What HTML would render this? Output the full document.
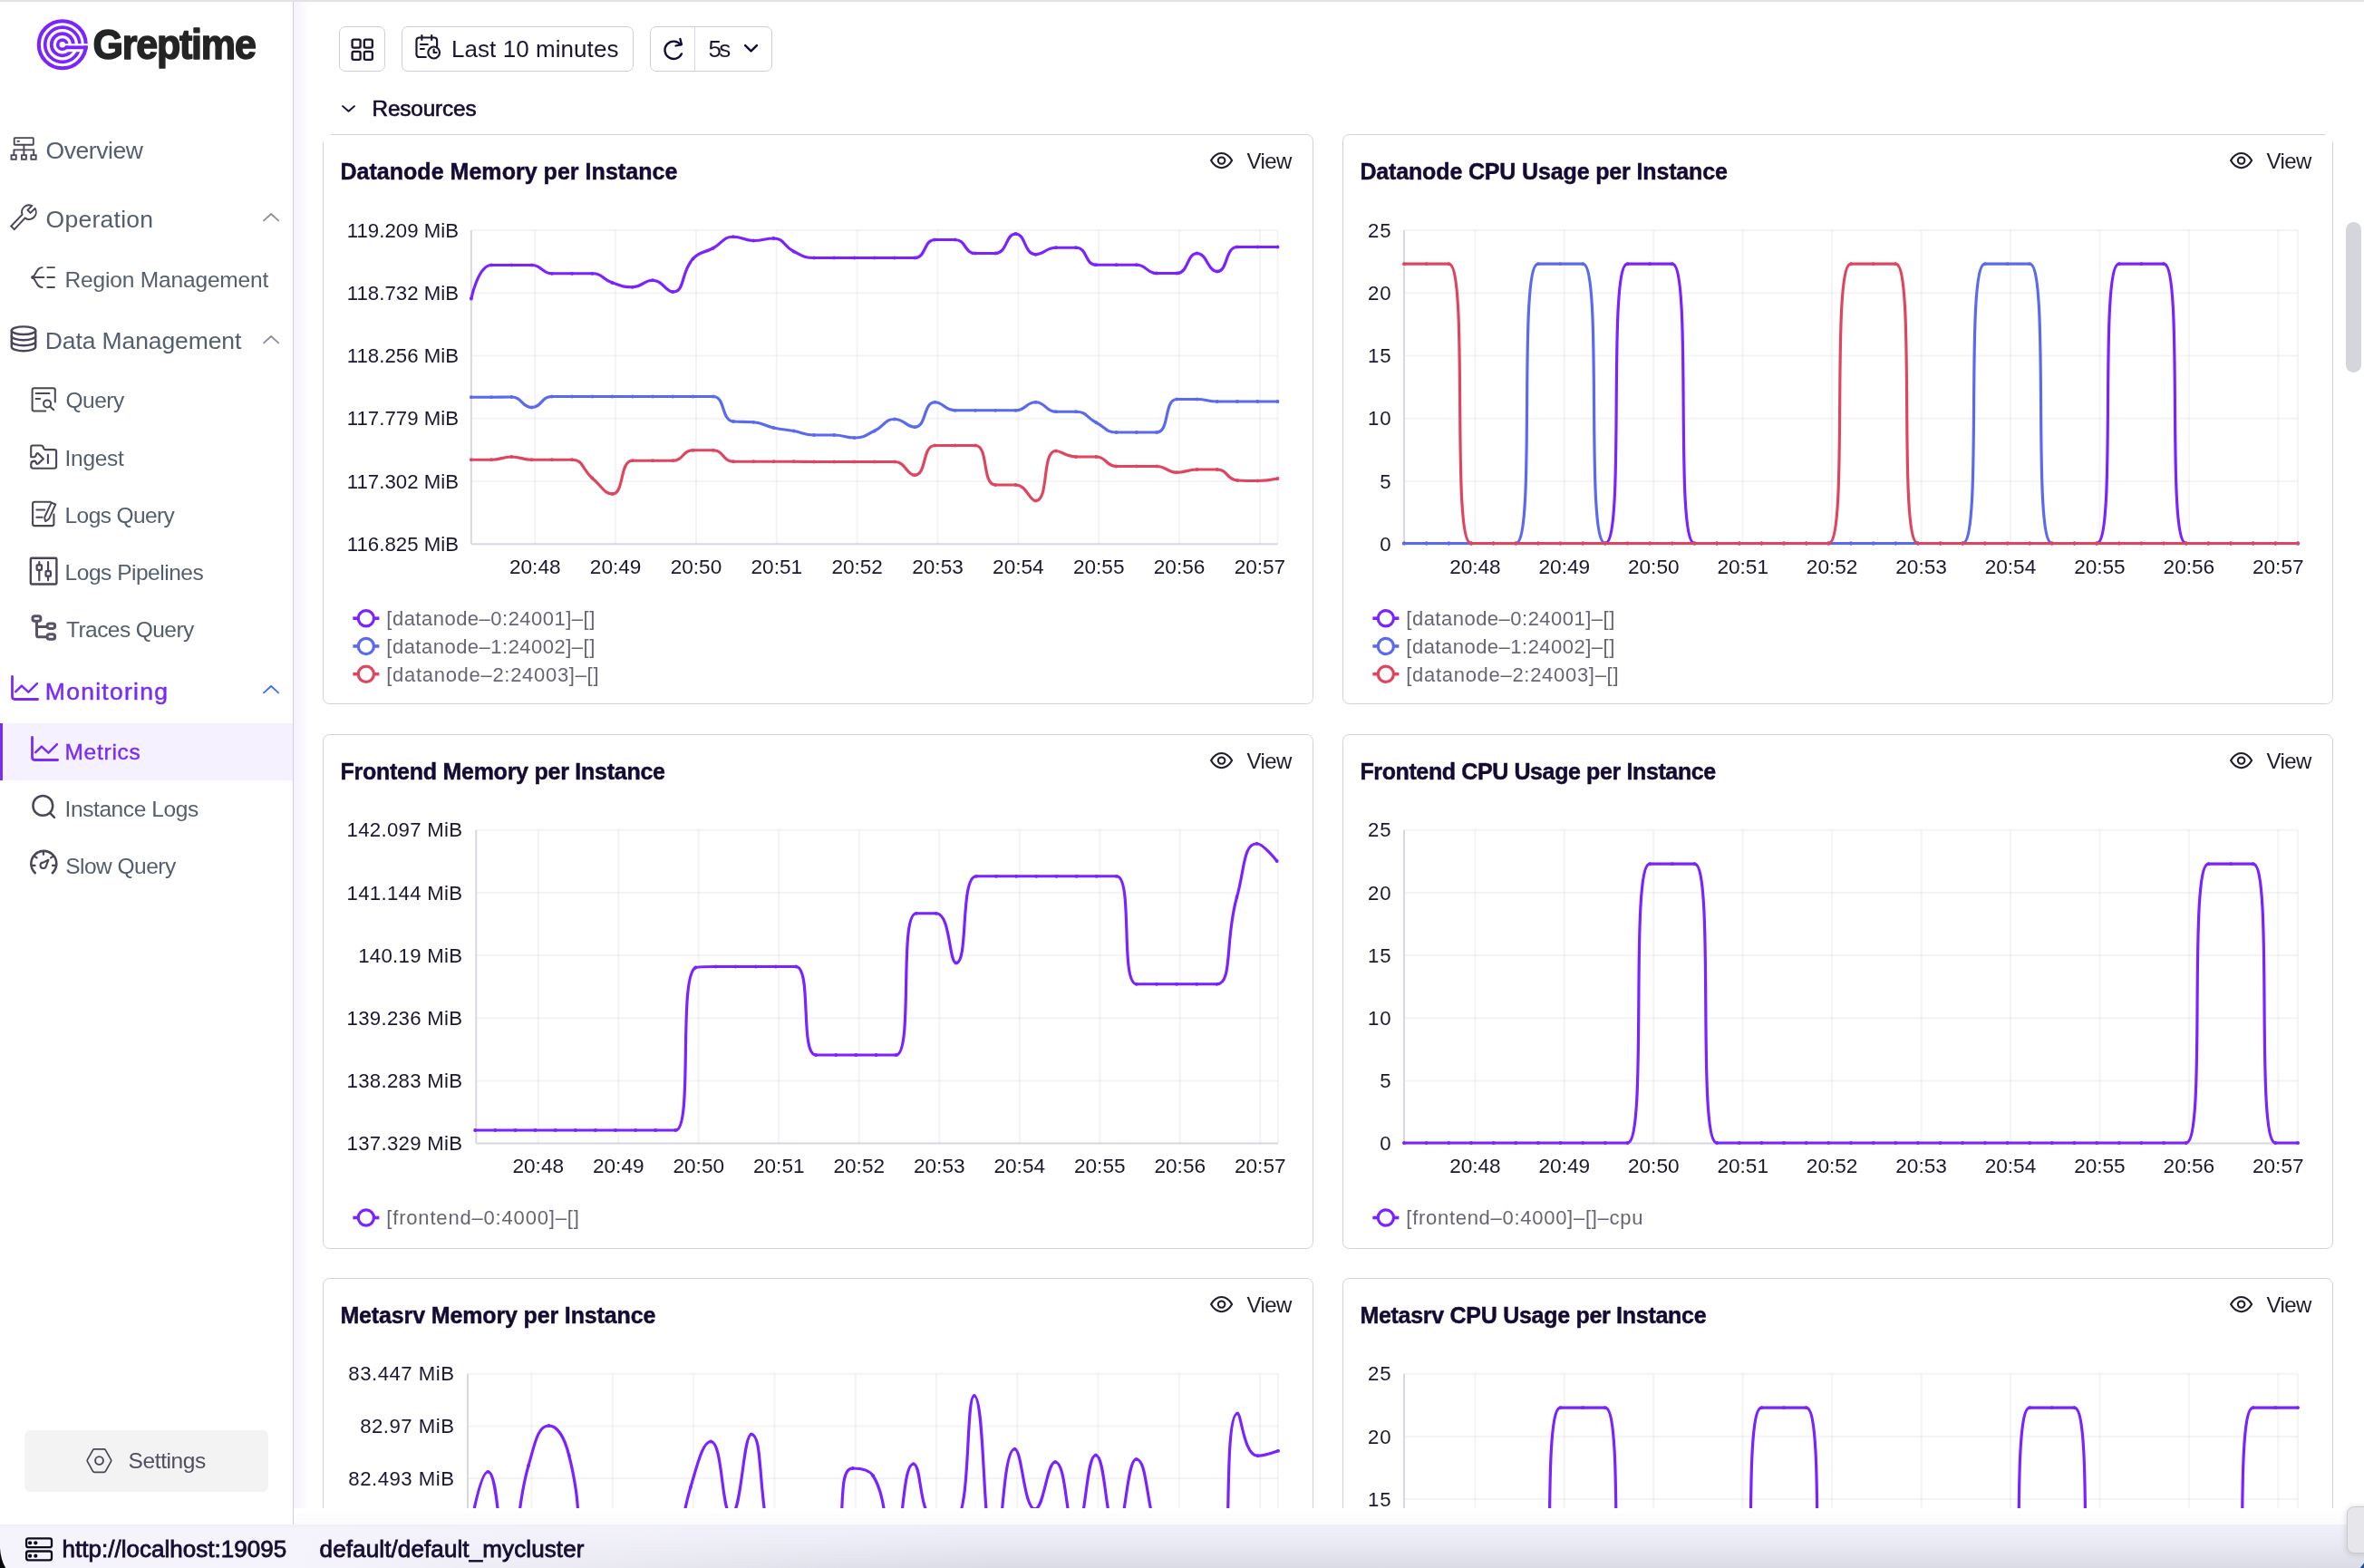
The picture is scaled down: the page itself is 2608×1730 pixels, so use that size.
<!DOCTYPE html><html lang="en"><head><meta charset="utf-8"><title>Greptime Dashboard - Metrics</title><style>
html,body{margin:0;padding:0}
body{width:2608px;height:1730px;position:relative;overflow:hidden;background:#fff;font-family:"Liberation Sans", sans-serif;}
.t{position:absolute;white-space:nowrap;}
.abs{position:absolute}
.ic{position:absolute;overflow:visible}
.card{position:absolute;box-sizing:border-box;border:1.6px solid #d2d1d9;border-radius:7.5px;background:#fff;width:1093px}
.btn{position:absolute;box-sizing:border-box;border:1.6px solid #d0cdd7;border-radius:7px;background:#fff;top:29.3px;height:49.4px}
svg text.ax{font-family:"Liberation Sans", sans-serif;font-size:22.2px;fill:#1c1730}
svg text.axx{font-family:"Liberation Sans", sans-serif;font-size:22.6px;fill:#1c1730}
svg text.lg{font-family:"Liberation Sans", sans-serif;font-size:22px;fill:#686475;}
</style></head><body><div id="app" style="position:absolute;left:0;top:0;width:2608px;height:1730px;overflow:hidden;will-change:transform">
<div class="abs" style="left:324px;top:2px;width:18px;height:1680px;background:linear-gradient(90deg,#f6f1ff,#fff)"></div>
<div class="card" style="left:355.8px;top:147.7px;height:629.6px"></div>
<div class="card" style="left:1480.8px;top:147.7px;height:629.6px"></div>
<div class="card" style="left:355.8px;top:809.7px;height:568.3px"></div>
<div class="card" style="left:1480.8px;top:809.7px;height:568.3px"></div>
<div class="card" style="left:355.8px;top:1409.7px;height:600px"></div>
<div class="card" style="left:1480.8px;top:1409.7px;height:600px"></div>
<div class="abs" style="left:350px;top:140px;width:15px;height:17px;background:linear-gradient(135deg,#fff 60%,rgba(255,255,255,0))"></div>
<div class="abs" style="left:2565px;top:140px;width:15px;height:17px;background:linear-gradient(225deg,#fff 60%,rgba(255,255,255,0))"></div>
<svg class="abs" style="left:0;top:0" width="2608" height="1730" viewBox="0 0 2608 1730"><defs><marker id="mk0" markerWidth="6" markerHeight="6" refX="3" refY="3" markerUnits="userSpaceOnUse"><circle cx="3" cy="3" r="1.900" fill="#7a22ff"/></marker><marker id="mk1" markerWidth="6" markerHeight="6" refX="3" refY="3" markerUnits="userSpaceOnUse"><circle cx="3" cy="3" r="1.900" fill="#5a6af0"/></marker><marker id="mk2" markerWidth="6" markerHeight="6" refX="3" refY="3" markerUnits="userSpaceOnUse"><circle cx="3" cy="3" r="1.900" fill="#e0455f"/></marker></defs>
<line x1="519.90" x2="1409.50" y1="253.90" y2="253.90" stroke="rgba(40,40,55,0.05)" stroke-width="2"/>
<text x="506.15" y="261.50" text-anchor="end" class="ax" style="letter-spacing:0.05px">119.209 MiB</text>
<line x1="519.90" x2="1409.50" y1="323.16" y2="323.16" stroke="rgba(40,40,55,0.05)" stroke-width="2"/>
<text x="506.15" y="330.76" text-anchor="end" class="ax" style="letter-spacing:0.05px">118.732 MiB</text>
<line x1="519.90" x2="1409.50" y1="392.42" y2="392.42" stroke="rgba(40,40,55,0.05)" stroke-width="2"/>
<text x="506.15" y="400.02" text-anchor="end" class="ax" style="letter-spacing:0.05px">118.256 MiB</text>
<line x1="519.90" x2="1409.50" y1="461.68" y2="461.68" stroke="rgba(40,40,55,0.05)" stroke-width="2"/>
<text x="506.15" y="469.28" text-anchor="end" class="ax" style="letter-spacing:0.05px">117.779 MiB</text>
<line x1="519.90" x2="1409.50" y1="530.94" y2="530.94" stroke="rgba(40,40,55,0.05)" stroke-width="2"/>
<text x="506.15" y="538.54" text-anchor="end" class="ax" style="letter-spacing:0.05px">117.302 MiB</text>
<line x1="519.90" x2="1409.50" y1="600.20" y2="600.20" stroke="#d9d8e0" stroke-width="2"/>
<text x="506.15" y="607.80" text-anchor="end" class="ax" style="letter-spacing:0.05px">116.825 MiB</text>
<line x1="590.25" x2="590.25" y1="253.90" y2="600.20" stroke="rgba(40,40,55,0.05)" stroke-width="2"/>
<text x="590.25" y="633.00" text-anchor="middle" class="axx">20:48</text>
<line x1="679.10" x2="679.10" y1="253.90" y2="600.20" stroke="rgba(40,40,55,0.05)" stroke-width="2"/>
<text x="679.10" y="633.00" text-anchor="middle" class="axx">20:49</text>
<line x1="767.95" x2="767.95" y1="253.90" y2="600.20" stroke="rgba(40,40,55,0.05)" stroke-width="2"/>
<text x="767.95" y="633.00" text-anchor="middle" class="axx">20:50</text>
<line x1="856.80" x2="856.80" y1="253.90" y2="600.20" stroke="rgba(40,40,55,0.05)" stroke-width="2"/>
<text x="856.80" y="633.00" text-anchor="middle" class="axx">20:51</text>
<line x1="945.65" x2="945.65" y1="253.90" y2="600.20" stroke="rgba(40,40,55,0.05)" stroke-width="2"/>
<text x="945.65" y="633.00" text-anchor="middle" class="axx">20:52</text>
<line x1="1034.50" x2="1034.50" y1="253.90" y2="600.20" stroke="rgba(40,40,55,0.05)" stroke-width="2"/>
<text x="1034.50" y="633.00" text-anchor="middle" class="axx">20:53</text>
<line x1="1123.35" x2="1123.35" y1="253.90" y2="600.20" stroke="rgba(40,40,55,0.05)" stroke-width="2"/>
<text x="1123.35" y="633.00" text-anchor="middle" class="axx">20:54</text>
<line x1="1212.20" x2="1212.20" y1="253.90" y2="600.20" stroke="rgba(40,40,55,0.05)" stroke-width="2"/>
<text x="1212.20" y="633.00" text-anchor="middle" class="axx">20:55</text>
<line x1="1301.05" x2="1301.05" y1="253.90" y2="600.20" stroke="rgba(40,40,55,0.05)" stroke-width="2"/>
<text x="1301.05" y="633.00" text-anchor="middle" class="axx">20:56</text>
<line x1="1389.90" x2="1389.90" y1="253.90" y2="600.20" stroke="rgba(40,40,55,0.05)" stroke-width="2"/>
<text x="1389.90" y="633.00" text-anchor="middle" class="axx">20:57</text>
<line x1="1409.50" x2="1409.50" y1="253.90" y2="600.20" stroke="rgba(40,40,55,0.05)" stroke-width="2"/>
<line x1="519.90" x2="519.90" y1="253.90" y2="600.20" stroke="#d9d8e0" stroke-width="2"/>
<path d="M519.90 329.50C519.90 329.50 527.46 292.50 542.14 292.50C549.70 292.50 553.26 292.50 564.38 292.50C575.50 292.50 575.94 292.50 586.62 292.50C598.18 292.50 597.30 301.75 608.86 301.75C619.54 301.75 619.98 301.75 631.10 301.75C642.22 301.75 642.76 301.75 653.34 301.75C665.00 301.75 664.05 308.11 675.58 312.00C686.29 315.61 686.88 316.75 697.82 316.75C709.12 316.75 709.43 309.25 720.06 309.25C731.67 309.25 733.96 322.00 742.30 322.00C756.20 322.00 750.54 300.69 764.54 285.50C772.78 276.56 775.74 279.77 786.78 273.75C797.98 267.64 797.24 261.25 809.02 261.25C819.48 261.25 820.08 265.50 831.26 265.50C842.32 265.50 843.33 263.00 853.50 263.00C865.57 263.00 863.90 271.78 875.74 277.50C886.14 282.53 886.60 284.50 897.98 284.50C908.84 284.50 909.10 284.50 920.22 284.50C931.34 284.50 931.34 284.50 942.46 284.50C953.58 284.50 953.58 284.50 964.70 284.50C975.82 284.50 975.82 284.50 986.94 284.50C998.06 284.50 999.70 284.50 1009.18 284.50C1021.94 284.50 1018.66 264.50 1031.42 264.50C1040.90 264.50 1043.58 264.50 1053.66 264.50C1065.82 264.50 1063.74 279.50 1075.90 279.50C1085.98 279.50 1088.84 279.50 1098.14 279.50C1111.08 279.50 1109.42 258.00 1120.38 258.00C1131.66 258.00 1129.82 280.75 1142.62 280.75C1152.06 280.75 1153.44 273.25 1164.86 273.25C1175.68 273.25 1177.49 273.25 1187.10 273.25C1199.73 273.25 1196.71 292.25 1209.34 292.25C1218.95 292.25 1220.46 292.25 1231.58 292.25C1242.70 292.25 1243.14 292.25 1253.82 292.25C1265.38 292.25 1264.50 301.50 1276.06 301.50C1286.74 301.50 1289.06 301.50 1298.30 301.50C1311.30 301.50 1309.17 279.50 1320.54 279.50C1331.41 279.50 1332.53 299.50 1342.78 299.50C1354.77 299.50 1351.42 272.50 1365.02 272.50C1373.66 272.50 1376.14 272.50 1387.26 272.50C1398.38 272.50 1409.50 272.50 1409.50 272.50" fill="none" stroke="#7a22ff" stroke-width="3.2" stroke-linejoin="round" stroke-linecap="round"/>
<polyline points="519.9,329.5 542.1,292.5 564.4,292.5 586.6,292.5 608.9,301.8 631.1,301.8 653.3,301.8 675.6,312.0 697.8,316.8 720.1,309.2 742.3,322.0 764.5,285.5 786.8,273.8 809.0,261.2 831.3,265.5 853.5,263.0 875.7,277.5 898.0,284.5 920.2,284.5 942.5,284.5 964.7,284.5 986.9,284.5 1009.2,284.5 1031.4,264.5 1053.7,264.5 1075.9,279.5 1098.1,279.5 1120.4,258.0 1142.6,280.8 1164.9,273.2 1187.1,273.2 1209.3,292.2 1231.6,292.2 1253.8,292.2 1276.1,301.5 1298.3,301.5 1320.5,279.5 1342.8,299.5 1365.0,272.5 1387.3,272.5 1409.5,272.5" fill="none" stroke="none" marker-start="url(#mk0)" marker-mid="url(#mk0)" marker-end="url(#mk0)"/>
<path d="M519.90 438.25C519.90 438.25 531.02 438.25 542.14 438.25C553.26 438.25 553.92 438.00 564.38 438.00C576.16 438.00 575.55 449.50 586.62 449.50C597.79 449.50 597.03 437.50 608.86 437.50C619.27 437.50 619.98 437.50 631.10 437.50C642.22 437.50 642.22 437.50 653.34 437.50C664.46 437.50 664.46 437.50 675.58 437.50C686.70 437.50 686.70 437.50 697.82 437.50C708.94 437.50 708.94 437.50 720.06 437.50C731.18 437.50 731.18 437.50 742.30 437.50C753.42 437.50 753.42 437.50 764.54 437.50C775.66 437.50 778.19 437.50 786.78 437.50C800.43 437.50 795.37 463.81 809.02 465.00C817.61 465.75 820.35 465.00 831.26 465.75C842.59 466.53 842.24 469.53 853.50 472.00C864.48 474.41 864.66 473.51 875.74 475.50C886.90 477.51 886.75 480.00 897.98 480.00C908.99 480.00 909.15 480.00 920.22 480.00C931.39 480.00 931.59 483.00 942.46 483.00C953.83 483.00 954.10 480.39 964.70 475.50C976.34 470.14 975.40 462.50 986.94 462.50C997.64 462.50 1000.21 471.25 1009.18 471.25C1022.45 471.25 1018.17 443.75 1031.42 443.75C1040.41 443.75 1042.12 452.75 1053.66 452.75C1064.36 452.75 1064.78 452.75 1075.90 452.75C1087.02 452.75 1087.02 452.75 1098.14 452.75C1109.26 452.75 1109.68 452.75 1120.38 452.75C1131.92 452.75 1131.64 443.75 1142.62 443.75C1153.88 443.75 1153.18 454.25 1164.86 454.25C1175.42 454.25 1176.69 454.25 1187.10 454.25C1198.93 454.25 1198.09 460.50 1209.34 466.25C1220.33 471.87 1219.88 477.00 1231.58 477.00C1242.12 477.00 1242.70 477.00 1253.82 477.00C1264.94 477.00 1268.45 477.00 1276.06 477.00C1290.69 477.00 1283.67 440.50 1298.30 440.50C1305.91 440.50 1309.45 440.50 1320.54 440.50C1331.69 440.50 1331.63 443.00 1342.78 443.00C1353.87 443.00 1353.90 443.00 1365.02 443.00C1376.14 443.00 1376.14 443.00 1387.26 443.00C1398.38 443.00 1409.50 443.00 1409.50 443.00" fill="none" stroke="#5a6af0" stroke-width="3.2" stroke-linejoin="round" stroke-linecap="round"/>
<polyline points="519.9,438.2 542.1,438.2 564.4,438.0 586.6,449.5 608.9,437.5 631.1,437.5 653.3,437.5 675.6,437.5 697.8,437.5 720.1,437.5 742.3,437.5 764.5,437.5 786.8,437.5 809.0,465.0 831.3,465.8 853.5,472.0 875.7,475.5 898.0,480.0 920.2,480.0 942.5,483.0 964.7,475.5 986.9,462.5 1009.2,471.2 1031.4,443.8 1053.7,452.8 1075.9,452.8 1098.1,452.8 1120.4,452.8 1142.6,443.8 1164.9,454.2 1187.1,454.2 1209.3,466.2 1231.6,477.0 1253.8,477.0 1276.1,477.0 1298.3,440.5 1320.5,440.5 1342.8,443.0 1365.0,443.0 1387.3,443.0 1409.5,443.0" fill="none" stroke="none" marker-start="url(#mk1)" marker-mid="url(#mk1)" marker-end="url(#mk1)"/>
<path d="M519.90 507.25C519.90 507.25 531.08 507.25 542.14 507.25C553.32 507.25 553.26 504.00 564.38 504.00C575.50 504.00 575.44 507.25 586.62 507.25C597.68 507.25 597.74 507.25 608.86 507.25C619.98 507.25 621.65 507.25 631.10 507.25C643.89 507.25 641.88 517.78 653.34 527.50C664.12 536.65 666.75 545.00 675.58 545.00C688.99 545.00 683.17 508.25 697.82 508.25C705.41 508.25 708.94 508.25 720.06 508.25C731.18 508.25 731.84 508.25 742.30 508.25C754.08 508.25 752.76 496.75 764.54 496.75C775.00 496.75 776.42 496.75 786.78 496.75C798.66 496.75 797.14 509.25 809.02 509.25C819.38 509.25 820.14 509.25 831.26 509.25C842.38 509.25 842.38 509.25 853.50 509.25C864.62 509.25 864.62 509.25 875.74 509.25C886.86 509.25 886.86 509.50 897.98 509.50C909.10 509.50 909.10 509.50 920.22 509.50C931.34 509.50 931.34 509.50 942.46 509.50C953.58 509.50 953.58 509.50 964.70 509.50C975.82 509.50 976.83 509.50 986.94 509.50C999.07 509.50 1000.22 524.25 1009.18 524.25C1022.46 524.25 1017.18 491.50 1031.42 491.50C1039.42 491.50 1042.54 491.50 1053.66 491.50C1064.78 491.50 1068.94 491.50 1075.90 491.50C1091.18 491.50 1082.86 535.00 1098.14 535.00C1105.10 535.00 1110.59 535.00 1120.38 535.00C1132.83 535.00 1135.44 552.50 1142.62 552.50C1157.68 552.50 1148.87 497.50 1164.86 497.50C1171.11 497.50 1175.75 504.00 1187.10 504.00C1197.99 504.00 1198.78 504.00 1209.34 504.00C1221.02 504.00 1219.90 514.50 1231.58 514.50C1242.14 514.50 1242.70 514.50 1253.82 514.50C1264.94 514.50 1265.18 514.50 1276.06 514.50C1287.42 514.50 1286.99 521.25 1298.30 521.25C1309.23 521.25 1309.36 518.00 1320.54 518.00C1331.60 518.00 1332.37 518.00 1342.78 518.00C1354.61 518.00 1353.19 529.43 1365.02 530.00C1375.43 530.50 1376.17 530.50 1387.26 530.50C1398.41 530.50 1409.50 528.00 1409.50 528.00" fill="none" stroke="#e0455f" stroke-width="3.2" stroke-linejoin="round" stroke-linecap="round"/>
<polyline points="519.9,507.2 542.1,507.2 564.4,504.0 586.6,507.2 608.9,507.2 631.1,507.2 653.3,527.5 675.6,545.0 697.8,508.2 720.1,508.2 742.3,508.2 764.5,496.8 786.8,496.8 809.0,509.2 831.3,509.2 853.5,509.2 875.7,509.2 898.0,509.5 920.2,509.5 942.5,509.5 964.7,509.5 986.9,509.5 1009.2,524.2 1031.4,491.5 1053.7,491.5 1075.9,491.5 1098.1,535.0 1120.4,535.0 1142.6,552.5 1164.9,497.5 1187.1,504.0 1209.3,504.0 1231.6,514.5 1253.8,514.5 1276.1,514.5 1298.3,521.2 1320.5,518.0 1342.8,518.0 1365.0,530.0 1387.3,530.5 1409.5,528.0" fill="none" stroke="none" marker-start="url(#mk2)" marker-mid="url(#mk2)" marker-end="url(#mk2)"/>
<line x1="1549.00" x2="2535.00" y1="253.90" y2="253.90" stroke="rgba(40,40,55,0.05)" stroke-width="2"/>
<text x="1535.40" y="261.50" text-anchor="end" class="ax" style="letter-spacing:0.8px">25</text>
<line x1="1549.00" x2="2535.00" y1="323.16" y2="323.16" stroke="rgba(40,40,55,0.05)" stroke-width="2"/>
<text x="1535.40" y="330.76" text-anchor="end" class="ax" style="letter-spacing:0.8px">20</text>
<line x1="1549.00" x2="2535.00" y1="392.42" y2="392.42" stroke="rgba(40,40,55,0.05)" stroke-width="2"/>
<text x="1535.40" y="400.02" text-anchor="end" class="ax" style="letter-spacing:0.8px">15</text>
<line x1="1549.00" x2="2535.00" y1="461.68" y2="461.68" stroke="rgba(40,40,55,0.05)" stroke-width="2"/>
<text x="1535.40" y="469.28" text-anchor="end" class="ax" style="letter-spacing:0.8px">10</text>
<line x1="1549.00" x2="2535.00" y1="530.94" y2="530.94" stroke="rgba(40,40,55,0.05)" stroke-width="2"/>
<text x="1535.40" y="538.54" text-anchor="end" class="ax" style="letter-spacing:0.8px">5</text>
<line x1="1549.00" x2="2535.00" y1="600.20" y2="600.20" stroke="#d9d8e0" stroke-width="2"/>
<text x="1535.40" y="607.80" text-anchor="end" class="ax" style="letter-spacing:0.8px">0</text>
<line x1="1627.40" x2="1627.40" y1="253.90" y2="600.20" stroke="rgba(40,40,55,0.05)" stroke-width="2"/>
<text x="1627.40" y="633.00" text-anchor="middle" class="axx">20:48</text>
<line x1="1725.83" x2="1725.83" y1="253.90" y2="600.20" stroke="rgba(40,40,55,0.05)" stroke-width="2"/>
<text x="1725.83" y="633.00" text-anchor="middle" class="axx">20:49</text>
<line x1="1824.26" x2="1824.26" y1="253.90" y2="600.20" stroke="rgba(40,40,55,0.05)" stroke-width="2"/>
<text x="1824.26" y="633.00" text-anchor="middle" class="axx">20:50</text>
<line x1="1922.69" x2="1922.69" y1="253.90" y2="600.20" stroke="rgba(40,40,55,0.05)" stroke-width="2"/>
<text x="1922.69" y="633.00" text-anchor="middle" class="axx">20:51</text>
<line x1="2021.12" x2="2021.12" y1="253.90" y2="600.20" stroke="rgba(40,40,55,0.05)" stroke-width="2"/>
<text x="2021.12" y="633.00" text-anchor="middle" class="axx">20:52</text>
<line x1="2119.55" x2="2119.55" y1="253.90" y2="600.20" stroke="rgba(40,40,55,0.05)" stroke-width="2"/>
<text x="2119.55" y="633.00" text-anchor="middle" class="axx">20:53</text>
<line x1="2217.98" x2="2217.98" y1="253.90" y2="600.20" stroke="rgba(40,40,55,0.05)" stroke-width="2"/>
<text x="2217.98" y="633.00" text-anchor="middle" class="axx">20:54</text>
<line x1="2316.41" x2="2316.41" y1="253.90" y2="600.20" stroke="rgba(40,40,55,0.05)" stroke-width="2"/>
<text x="2316.41" y="633.00" text-anchor="middle" class="axx">20:55</text>
<line x1="2414.84" x2="2414.84" y1="253.90" y2="600.20" stroke="rgba(40,40,55,0.05)" stroke-width="2"/>
<text x="2414.84" y="633.00" text-anchor="middle" class="axx">20:56</text>
<line x1="2513.27" x2="2513.27" y1="253.90" y2="600.20" stroke="rgba(40,40,55,0.05)" stroke-width="2"/>
<text x="2513.27" y="633.00" text-anchor="middle" class="axx">20:57</text>
<line x1="2535.00" x2="2535.00" y1="253.90" y2="600.20" stroke="rgba(40,40,55,0.05)" stroke-width="2"/>
<line x1="1549.00" x2="1549.00" y1="253.90" y2="600.20" stroke="#d9d8e0" stroke-width="2"/>
<path d="M1549.00 599.50C1549.00 599.50 1561.33 599.50 1573.65 599.50C1585.97 599.50 1585.97 599.50 1598.30 599.50C1610.62 599.50 1610.62 599.50 1622.95 599.50C1635.28 599.50 1635.28 599.50 1647.60 599.50C1659.92 599.50 1659.92 599.50 1672.25 599.50C1684.58 599.50 1684.58 599.50 1696.90 599.50C1709.22 599.50 1709.22 599.50 1721.55 599.50C1733.88 599.50 1733.88 599.50 1746.20 599.50C1758.53 599.50 1769.03 599.50 1770.85 599.50C1793.68 599.50 1772.67 291.22 1795.50 291.22C1797.32 291.22 1807.83 291.22 1820.15 291.22C1832.47 291.22 1842.98 291.22 1844.80 291.22C1867.63 291.22 1846.62 599.50 1869.45 599.50C1871.27 599.50 1881.78 599.50 1894.10 599.50C1906.42 599.50 1906.42 599.50 1918.75 599.50C1931.08 599.50 1931.08 599.50 1943.40 599.50C1955.72 599.50 1955.72 599.50 1968.05 599.50C1980.38 599.50 1980.38 599.50 1992.70 599.50C2005.03 599.50 2005.03 599.50 2017.35 599.50C2029.67 599.50 2029.68 599.50 2042.00 599.50C2054.32 599.50 2054.32 599.50 2066.65 599.50C2078.98 599.50 2078.98 599.50 2091.30 599.50C2103.62 599.50 2103.62 599.50 2115.95 599.50C2128.27 599.50 2128.27 599.50 2140.60 599.50C2152.93 599.50 2152.93 599.50 2165.25 599.50C2177.57 599.50 2177.57 599.50 2189.90 599.50C2202.23 599.50 2202.23 599.50 2214.55 599.50C2226.88 599.50 2226.88 599.50 2239.20 599.50C2251.52 599.50 2251.52 599.50 2263.85 599.50C2276.18 599.50 2276.18 599.50 2288.50 599.50C2300.82 599.50 2311.33 599.50 2313.15 599.50C2335.98 599.50 2314.97 291.22 2337.80 291.22C2339.62 291.22 2350.12 291.22 2362.45 291.22C2374.77 291.22 2385.28 291.22 2387.10 291.22C2409.93 291.22 2388.92 599.50 2411.75 599.50C2413.57 599.50 2424.07 599.50 2436.40 599.50C2448.73 599.50 2448.73 599.50 2461.05 599.50C2473.38 599.50 2473.38 599.50 2485.70 599.50C2498.02 599.50 2498.02 599.50 2510.35 599.50C2522.68 599.50 2535.00 599.50 2535.00 599.50" fill="none" stroke="#7a22ff" stroke-width="3.2" stroke-linejoin="round" stroke-linecap="round"/>
<polyline points="1549.0,599.5 1573.7,599.5 1598.3,599.5 1623.0,599.5 1647.6,599.5 1672.2,599.5 1696.9,599.5 1721.5,599.5 1746.2,599.5 1770.8,599.5 1795.5,291.2 1820.2,291.2 1844.8,291.2 1869.5,599.5 1894.1,599.5 1918.8,599.5 1943.4,599.5 1968.0,599.5 1992.7,599.5 2017.3,599.5 2042.0,599.5 2066.7,599.5 2091.3,599.5 2115.9,599.5 2140.6,599.5 2165.2,599.5 2189.9,599.5 2214.6,599.5 2239.2,599.5 2263.8,599.5 2288.5,599.5 2313.2,599.5 2337.8,291.2 2362.4,291.2 2387.1,291.2 2411.8,599.5 2436.4,599.5 2461.1,599.5 2485.7,599.5 2510.3,599.5 2535.0,599.5" fill="none" stroke="none" marker-start="url(#mk0)" marker-mid="url(#mk0)" marker-end="url(#mk0)"/>
<path d="M1549.00 599.50C1549.00 599.50 1561.33 599.50 1573.65 599.50C1585.97 599.50 1585.97 599.50 1598.30 599.50C1610.62 599.50 1610.62 599.50 1622.95 599.50C1635.28 599.50 1635.28 599.50 1647.60 599.50C1659.92 599.50 1670.43 599.50 1672.25 599.50C1695.08 599.50 1674.07 291.22 1696.90 291.22C1698.72 291.22 1709.22 291.22 1721.55 291.22C1733.88 291.22 1744.38 291.22 1746.20 291.22C1769.03 291.22 1748.02 599.50 1770.85 599.50C1772.67 599.50 1783.17 599.50 1795.50 599.50C1807.83 599.50 1807.83 599.50 1820.15 599.50C1832.47 599.50 1832.47 599.50 1844.80 599.50C1857.12 599.50 1857.12 599.50 1869.45 599.50C1881.78 599.50 1881.78 599.50 1894.10 599.50C1906.42 599.50 1906.42 599.50 1918.75 599.50C1931.08 599.50 1931.08 599.50 1943.40 599.50C1955.72 599.50 1955.72 599.50 1968.05 599.50C1980.38 599.50 1980.38 599.50 1992.70 599.50C2005.03 599.50 2005.03 599.50 2017.35 599.50C2029.67 599.50 2029.68 599.50 2042.00 599.50C2054.32 599.50 2054.32 599.50 2066.65 599.50C2078.98 599.50 2078.98 599.50 2091.30 599.50C2103.62 599.50 2103.62 599.50 2115.95 599.50C2128.27 599.50 2128.27 599.50 2140.60 599.50C2152.93 599.50 2163.43 599.50 2165.25 599.50C2188.08 599.50 2167.07 291.22 2189.90 291.22C2191.72 291.22 2202.23 291.22 2214.55 291.22C2226.88 291.22 2237.38 291.22 2239.20 291.22C2262.03 291.22 2241.02 599.50 2263.85 599.50C2265.67 599.50 2276.18 599.50 2288.50 599.50C2300.82 599.50 2300.82 599.50 2313.15 599.50C2325.48 599.50 2325.48 599.50 2337.80 599.50C2350.12 599.50 2350.12 599.50 2362.45 599.50C2374.77 599.50 2374.77 599.50 2387.10 599.50C2399.43 599.50 2399.43 599.50 2411.75 599.50C2424.07 599.50 2424.07 599.50 2436.40 599.50C2448.73 599.50 2448.73 599.50 2461.05 599.50C2473.38 599.50 2473.38 599.50 2485.70 599.50C2498.02 599.50 2498.02 599.50 2510.35 599.50C2522.68 599.50 2535.00 599.50 2535.00 599.50" fill="none" stroke="#5a6af0" stroke-width="3.2" stroke-linejoin="round" stroke-linecap="round"/>
<polyline points="1549.0,599.5 1573.7,599.5 1598.3,599.5 1623.0,599.5 1647.6,599.5 1672.2,599.5 1696.9,291.2 1721.5,291.2 1746.2,291.2 1770.8,599.5 1795.5,599.5 1820.2,599.5 1844.8,599.5 1869.5,599.5 1894.1,599.5 1918.8,599.5 1943.4,599.5 1968.0,599.5 1992.7,599.5 2017.3,599.5 2042.0,599.5 2066.7,599.5 2091.3,599.5 2115.9,599.5 2140.6,599.5 2165.2,599.5 2189.9,291.2 2214.6,291.2 2239.2,291.2 2263.8,599.5 2288.5,599.5 2313.2,599.5 2337.8,599.5 2362.4,599.5 2387.1,599.5 2411.8,599.5 2436.4,599.5 2461.1,599.5 2485.7,599.5 2510.3,599.5 2535.0,599.5" fill="none" stroke="none" marker-start="url(#mk1)" marker-mid="url(#mk1)" marker-end="url(#mk1)"/>
<path d="M1549.00 291.22C1549.00 291.22 1561.33 291.22 1573.65 291.22C1585.97 291.22 1596.48 291.22 1598.30 291.22C1621.13 291.22 1600.12 599.50 1622.95 599.50C1624.77 599.50 1635.28 599.50 1647.60 599.50C1659.92 599.50 1659.92 599.50 1672.25 599.50C1684.58 599.50 1684.58 599.50 1696.90 599.50C1709.22 599.50 1709.22 599.50 1721.55 599.50C1733.88 599.50 1733.88 599.50 1746.20 599.50C1758.53 599.50 1758.53 599.50 1770.85 599.50C1783.17 599.50 1783.17 599.50 1795.50 599.50C1807.83 599.50 1807.83 599.50 1820.15 599.50C1832.47 599.50 1832.47 599.50 1844.80 599.50C1857.12 599.50 1857.12 599.50 1869.45 599.50C1881.78 599.50 1881.78 599.50 1894.10 599.50C1906.42 599.50 1906.42 599.50 1918.75 599.50C1931.08 599.50 1931.08 599.50 1943.40 599.50C1955.72 599.50 1955.72 599.50 1968.05 599.50C1980.38 599.50 1980.38 599.50 1992.70 599.50C2005.03 599.50 2015.53 599.50 2017.35 599.50C2040.18 599.50 2019.17 291.22 2042.00 291.22C2043.82 291.22 2054.32 291.22 2066.65 291.22C2078.98 291.22 2089.48 291.22 2091.30 291.22C2114.13 291.22 2093.12 599.50 2115.95 599.50C2117.77 599.50 2128.27 599.50 2140.60 599.50C2152.93 599.50 2152.93 599.50 2165.25 599.50C2177.57 599.50 2177.57 599.50 2189.90 599.50C2202.23 599.50 2202.23 599.50 2214.55 599.50C2226.88 599.50 2226.88 599.50 2239.20 599.50C2251.52 599.50 2251.52 599.50 2263.85 599.50C2276.18 599.50 2276.18 599.50 2288.50 599.50C2300.82 599.50 2300.82 599.50 2313.15 599.50C2325.48 599.50 2325.48 599.50 2337.80 599.50C2350.12 599.50 2350.12 599.50 2362.45 599.50C2374.77 599.50 2374.77 599.50 2387.10 599.50C2399.43 599.50 2399.43 599.50 2411.75 599.50C2424.07 599.50 2424.07 599.50 2436.40 599.50C2448.73 599.50 2448.73 599.50 2461.05 599.50C2473.38 599.50 2473.38 599.50 2485.70 599.50C2498.02 599.50 2498.02 599.50 2510.35 599.50C2522.68 599.50 2535.00 599.50 2535.00 599.50" fill="none" stroke="#e0455f" stroke-width="3.2" stroke-linejoin="round" stroke-linecap="round"/>
<polyline points="1549.0,291.2 1573.7,291.2 1598.3,291.2 1623.0,599.5 1647.6,599.5 1672.2,599.5 1696.9,599.5 1721.5,599.5 1746.2,599.5 1770.8,599.5 1795.5,599.5 1820.2,599.5 1844.8,599.5 1869.5,599.5 1894.1,599.5 1918.8,599.5 1943.4,599.5 1968.0,599.5 1992.7,599.5 2017.3,599.5 2042.0,291.2 2066.7,291.2 2091.3,291.2 2115.9,599.5 2140.6,599.5 2165.2,599.5 2189.9,599.5 2214.6,599.5 2239.2,599.5 2263.8,599.5 2288.5,599.5 2313.2,599.5 2337.8,599.5 2362.4,599.5 2387.1,599.5 2411.8,599.5 2436.4,599.5 2461.1,599.5 2485.7,599.5 2510.3,599.5 2535.0,599.5" fill="none" stroke="none" marker-start="url(#mk2)" marker-mid="url(#mk2)" marker-end="url(#mk2)"/>
<line x1="525.30" x2="1410.00" y1="915.80" y2="915.80" stroke="rgba(40,40,55,0.05)" stroke-width="2"/>
<text x="510.40" y="923.40" text-anchor="end" class="ax" style="letter-spacing:0.3px">142.097 MiB</text>
<line x1="525.30" x2="1410.00" y1="984.96" y2="984.96" stroke="rgba(40,40,55,0.05)" stroke-width="2"/>
<text x="510.40" y="992.56" text-anchor="end" class="ax" style="letter-spacing:0.3px">141.144 MiB</text>
<line x1="525.30" x2="1410.00" y1="1054.12" y2="1054.12" stroke="rgba(40,40,55,0.05)" stroke-width="2"/>
<text x="510.40" y="1061.72" text-anchor="end" class="ax" style="letter-spacing:0.3px">140.19 MiB</text>
<line x1="525.30" x2="1410.00" y1="1123.28" y2="1123.28" stroke="rgba(40,40,55,0.05)" stroke-width="2"/>
<text x="510.40" y="1130.88" text-anchor="end" class="ax" style="letter-spacing:0.3px">139.236 MiB</text>
<line x1="525.30" x2="1410.00" y1="1192.44" y2="1192.44" stroke="rgba(40,40,55,0.05)" stroke-width="2"/>
<text x="510.40" y="1200.04" text-anchor="end" class="ax" style="letter-spacing:0.3px">138.283 MiB</text>
<line x1="525.30" x2="1410.00" y1="1261.60" y2="1261.60" stroke="#d9d8e0" stroke-width="2"/>
<text x="510.40" y="1269.20" text-anchor="end" class="ax" style="letter-spacing:0.3px">137.329 MiB</text>
<line x1="593.75" x2="593.75" y1="915.80" y2="1261.60" stroke="rgba(40,40,55,0.05)" stroke-width="2"/>
<text x="593.75" y="1294.40" text-anchor="middle" class="axx">20:48</text>
<line x1="682.25" x2="682.25" y1="915.80" y2="1261.60" stroke="rgba(40,40,55,0.05)" stroke-width="2"/>
<text x="682.25" y="1294.40" text-anchor="middle" class="axx">20:49</text>
<line x1="770.75" x2="770.75" y1="915.80" y2="1261.60" stroke="rgba(40,40,55,0.05)" stroke-width="2"/>
<text x="770.75" y="1294.40" text-anchor="middle" class="axx">20:50</text>
<line x1="859.25" x2="859.25" y1="915.80" y2="1261.60" stroke="rgba(40,40,55,0.05)" stroke-width="2"/>
<text x="859.25" y="1294.40" text-anchor="middle" class="axx">20:51</text>
<line x1="947.75" x2="947.75" y1="915.80" y2="1261.60" stroke="rgba(40,40,55,0.05)" stroke-width="2"/>
<text x="947.75" y="1294.40" text-anchor="middle" class="axx">20:52</text>
<line x1="1036.25" x2="1036.25" y1="915.80" y2="1261.60" stroke="rgba(40,40,55,0.05)" stroke-width="2"/>
<text x="1036.25" y="1294.40" text-anchor="middle" class="axx">20:53</text>
<line x1="1124.75" x2="1124.75" y1="915.80" y2="1261.60" stroke="rgba(40,40,55,0.05)" stroke-width="2"/>
<text x="1124.75" y="1294.40" text-anchor="middle" class="axx">20:54</text>
<line x1="1213.25" x2="1213.25" y1="915.80" y2="1261.60" stroke="rgba(40,40,55,0.05)" stroke-width="2"/>
<text x="1213.25" y="1294.40" text-anchor="middle" class="axx">20:55</text>
<line x1="1301.75" x2="1301.75" y1="915.80" y2="1261.60" stroke="rgba(40,40,55,0.05)" stroke-width="2"/>
<text x="1301.75" y="1294.40" text-anchor="middle" class="axx">20:56</text>
<line x1="1390.25" x2="1390.25" y1="915.80" y2="1261.60" stroke="rgba(40,40,55,0.05)" stroke-width="2"/>
<text x="1390.25" y="1294.40" text-anchor="middle" class="axx">20:57</text>
<line x1="1410.00" x2="1410.00" y1="915.80" y2="1261.60" stroke="rgba(40,40,55,0.05)" stroke-width="2"/>
<line x1="525.30" x2="525.30" y1="915.80" y2="1261.60" stroke="#d9d8e0" stroke-width="2"/>
<path d="M524.20 1247.00C524.20 1247.00 535.26 1247.00 546.31 1247.00C557.37 1247.00 557.37 1247.00 568.43 1247.00C579.48 1247.00 579.48 1247.00 590.54 1247.00C601.59 1247.00 601.59 1247.00 612.65 1247.00C623.71 1247.00 623.71 1247.00 634.76 1247.00C645.82 1247.00 645.82 1247.00 656.88 1247.00C667.93 1247.00 667.93 1247.00 678.99 1247.00C690.04 1247.00 690.04 1247.00 701.10 1247.00C712.16 1247.00 712.16 1247.00 723.21 1247.00C734.27 1247.00 742.92 1247.00 745.33 1247.00C765.03 1247.00 747.74 1075.67 767.44 1067.50C769.85 1066.50 778.49 1066.50 789.55 1066.50C800.60 1066.50 800.61 1066.50 811.66 1066.50C822.72 1066.50 822.72 1066.50 833.78 1066.50C844.83 1066.50 844.83 1066.50 855.89 1066.50C866.94 1066.50 874.00 1066.50 878.00 1066.50C896.11 1066.50 882.00 1164.00 900.11 1164.00C904.12 1164.00 911.17 1164.00 922.23 1164.00C933.28 1164.00 933.28 1164.00 944.34 1164.00C955.39 1164.00 955.39 1164.00 966.45 1164.00C977.51 1164.00 985.84 1164.00 988.56 1164.00C1007.96 1164.00 991.28 1007.75 1010.68 1007.75C1013.39 1007.75 1026.76 1007.75 1032.79 1007.75C1048.88 1007.75 1046.60 1062.50 1054.90 1062.50C1068.71 1062.50 1058.96 966.75 1077.01 966.75C1081.07 966.75 1088.07 966.75 1099.12 966.75C1110.18 966.75 1110.18 966.75 1121.24 966.75C1132.29 966.75 1132.29 966.75 1143.35 966.75C1154.41 966.75 1154.41 966.75 1165.46 966.75C1176.52 966.75 1176.52 966.75 1187.58 966.75C1198.63 966.75 1198.63 966.75 1209.69 966.75C1220.74 966.75 1228.38 966.75 1231.80 966.75C1250.50 966.75 1235.22 1085.75 1253.91 1085.75C1257.33 1085.75 1264.97 1085.75 1276.03 1085.75C1287.08 1085.75 1287.08 1085.75 1298.14 1085.75C1309.19 1085.75 1309.19 1085.75 1320.25 1085.75C1331.31 1085.75 1338.30 1085.75 1342.36 1085.75C1360.41 1085.75 1351.02 1037.15 1364.47 990.00C1373.13 959.65 1371.48 930.75 1386.59 930.75C1393.59 930.75 1408.70 950.00 1408.70 950.00" fill="none" stroke="#7a22ff" stroke-width="3.2" stroke-linejoin="round" stroke-linecap="round"/>
<polyline points="524.2,1247.0 546.3,1247.0 568.4,1247.0 590.5,1247.0 612.7,1247.0 634.8,1247.0 656.9,1247.0 679.0,1247.0 701.1,1247.0 723.2,1247.0 745.3,1247.0 767.4,1067.5 789.6,1066.5 811.7,1066.5 833.8,1066.5 855.9,1066.5 878.0,1066.5 900.1,1164.0 922.2,1164.0 944.3,1164.0 966.5,1164.0 988.6,1164.0 1010.7,1007.8 1032.8,1007.8 1054.9,1062.5 1077.0,966.8 1099.1,966.8 1121.2,966.8 1143.3,966.8 1165.5,966.8 1187.6,966.8 1209.7,966.8 1231.8,966.8 1253.9,1085.8 1276.0,1085.8 1298.1,1085.8 1320.2,1085.8 1342.4,1085.8 1364.5,990.0 1386.6,930.8 1408.7,950.0" fill="none" stroke="none" marker-start="url(#mk0)" marker-mid="url(#mk0)" marker-end="url(#mk0)"/>
<line x1="1549.00" x2="2535.00" y1="915.80" y2="915.80" stroke="rgba(40,40,55,0.05)" stroke-width="2"/>
<text x="1535.40" y="923.40" text-anchor="end" class="ax" style="letter-spacing:0.8px">25</text>
<line x1="1549.00" x2="2535.00" y1="984.96" y2="984.96" stroke="rgba(40,40,55,0.05)" stroke-width="2"/>
<text x="1535.40" y="992.56" text-anchor="end" class="ax" style="letter-spacing:0.8px">20</text>
<line x1="1549.00" x2="2535.00" y1="1054.12" y2="1054.12" stroke="rgba(40,40,55,0.05)" stroke-width="2"/>
<text x="1535.40" y="1061.72" text-anchor="end" class="ax" style="letter-spacing:0.8px">15</text>
<line x1="1549.00" x2="2535.00" y1="1123.28" y2="1123.28" stroke="rgba(40,40,55,0.05)" stroke-width="2"/>
<text x="1535.40" y="1130.88" text-anchor="end" class="ax" style="letter-spacing:0.8px">10</text>
<line x1="1549.00" x2="2535.00" y1="1192.44" y2="1192.44" stroke="rgba(40,40,55,0.05)" stroke-width="2"/>
<text x="1535.40" y="1200.04" text-anchor="end" class="ax" style="letter-spacing:0.8px">5</text>
<line x1="1549.00" x2="2535.00" y1="1261.60" y2="1261.60" stroke="#d9d8e0" stroke-width="2"/>
<text x="1535.40" y="1269.20" text-anchor="end" class="ax" style="letter-spacing:0.8px">0</text>
<line x1="1627.40" x2="1627.40" y1="915.80" y2="1261.60" stroke="rgba(40,40,55,0.05)" stroke-width="2"/>
<text x="1627.40" y="1294.40" text-anchor="middle" class="axx">20:48</text>
<line x1="1725.83" x2="1725.83" y1="915.80" y2="1261.60" stroke="rgba(40,40,55,0.05)" stroke-width="2"/>
<text x="1725.83" y="1294.40" text-anchor="middle" class="axx">20:49</text>
<line x1="1824.26" x2="1824.26" y1="915.80" y2="1261.60" stroke="rgba(40,40,55,0.05)" stroke-width="2"/>
<text x="1824.26" y="1294.40" text-anchor="middle" class="axx">20:50</text>
<line x1="1922.69" x2="1922.69" y1="915.80" y2="1261.60" stroke="rgba(40,40,55,0.05)" stroke-width="2"/>
<text x="1922.69" y="1294.40" text-anchor="middle" class="axx">20:51</text>
<line x1="2021.12" x2="2021.12" y1="915.80" y2="1261.60" stroke="rgba(40,40,55,0.05)" stroke-width="2"/>
<text x="2021.12" y="1294.40" text-anchor="middle" class="axx">20:52</text>
<line x1="2119.55" x2="2119.55" y1="915.80" y2="1261.60" stroke="rgba(40,40,55,0.05)" stroke-width="2"/>
<text x="2119.55" y="1294.40" text-anchor="middle" class="axx">20:53</text>
<line x1="2217.98" x2="2217.98" y1="915.80" y2="1261.60" stroke="rgba(40,40,55,0.05)" stroke-width="2"/>
<text x="2217.98" y="1294.40" text-anchor="middle" class="axx">20:54</text>
<line x1="2316.41" x2="2316.41" y1="915.80" y2="1261.60" stroke="rgba(40,40,55,0.05)" stroke-width="2"/>
<text x="2316.41" y="1294.40" text-anchor="middle" class="axx">20:55</text>
<line x1="2414.84" x2="2414.84" y1="915.80" y2="1261.60" stroke="rgba(40,40,55,0.05)" stroke-width="2"/>
<text x="2414.84" y="1294.40" text-anchor="middle" class="axx">20:56</text>
<line x1="2513.27" x2="2513.27" y1="915.80" y2="1261.60" stroke="rgba(40,40,55,0.05)" stroke-width="2"/>
<text x="2513.27" y="1294.40" text-anchor="middle" class="axx">20:57</text>
<line x1="2535.00" x2="2535.00" y1="915.80" y2="1261.60" stroke="rgba(40,40,55,0.05)" stroke-width="2"/>
<line x1="1549.00" x2="1549.00" y1="915.80" y2="1261.60" stroke="#d9d8e0" stroke-width="2"/>
<path d="M1549.00 1261.00C1549.00 1261.00 1561.33 1261.00 1573.65 1261.00C1585.97 1261.00 1585.97 1261.00 1598.30 1261.00C1610.62 1261.00 1610.62 1261.00 1622.95 1261.00C1635.28 1261.00 1635.28 1261.00 1647.60 1261.00C1659.92 1261.00 1659.92 1261.00 1672.25 1261.00C1684.58 1261.00 1684.58 1261.00 1696.90 1261.00C1709.22 1261.00 1709.22 1261.00 1721.55 1261.00C1733.88 1261.00 1733.88 1261.00 1746.20 1261.00C1758.53 1261.00 1758.53 1261.00 1770.85 1261.00C1783.17 1261.00 1793.68 1261.00 1795.50 1261.00C1818.33 1261.00 1797.32 953.08 1820.15 953.08C1821.97 953.08 1832.47 953.08 1844.80 953.08C1857.12 953.08 1867.63 953.08 1869.45 953.08C1892.28 953.08 1871.27 1261.00 1894.10 1261.00C1895.92 1261.00 1906.42 1261.00 1918.75 1261.00C1931.08 1261.00 1931.08 1261.00 1943.40 1261.00C1955.72 1261.00 1955.72 1261.00 1968.05 1261.00C1980.38 1261.00 1980.38 1261.00 1992.70 1261.00C2005.03 1261.00 2005.03 1261.00 2017.35 1261.00C2029.67 1261.00 2029.68 1261.00 2042.00 1261.00C2054.32 1261.00 2054.32 1261.00 2066.65 1261.00C2078.98 1261.00 2078.98 1261.00 2091.30 1261.00C2103.62 1261.00 2103.62 1261.00 2115.95 1261.00C2128.27 1261.00 2128.27 1261.00 2140.60 1261.00C2152.93 1261.00 2152.93 1261.00 2165.25 1261.00C2177.57 1261.00 2177.57 1261.00 2189.90 1261.00C2202.23 1261.00 2202.23 1261.00 2214.55 1261.00C2226.88 1261.00 2226.88 1261.00 2239.20 1261.00C2251.52 1261.00 2251.52 1261.00 2263.85 1261.00C2276.18 1261.00 2276.18 1261.00 2288.50 1261.00C2300.82 1261.00 2300.82 1261.00 2313.15 1261.00C2325.48 1261.00 2325.48 1261.00 2337.80 1261.00C2350.12 1261.00 2350.12 1261.00 2362.45 1261.00C2374.77 1261.00 2374.77 1261.00 2387.10 1261.00C2399.43 1261.00 2409.93 1261.00 2411.75 1261.00C2434.58 1261.00 2413.57 953.08 2436.40 953.08C2438.22 953.08 2448.73 953.08 2461.05 953.08C2473.38 953.08 2483.88 953.08 2485.70 953.08C2508.53 953.08 2487.52 1261.00 2510.35 1261.00C2512.17 1261.00 2535.00 1261.00 2535.00 1261.00" fill="none" stroke="#7a22ff" stroke-width="3.2" stroke-linejoin="round" stroke-linecap="round"/>
<polyline points="1549.0,1261.0 1573.7,1261.0 1598.3,1261.0 1623.0,1261.0 1647.6,1261.0 1672.2,1261.0 1696.9,1261.0 1721.5,1261.0 1746.2,1261.0 1770.8,1261.0 1795.5,1261.0 1820.2,953.1 1844.8,953.1 1869.5,953.1 1894.1,1261.0 1918.8,1261.0 1943.4,1261.0 1968.0,1261.0 1992.7,1261.0 2017.3,1261.0 2042.0,1261.0 2066.7,1261.0 2091.3,1261.0 2115.9,1261.0 2140.6,1261.0 2165.2,1261.0 2189.9,1261.0 2214.6,1261.0 2239.2,1261.0 2263.8,1261.0 2288.5,1261.0 2313.2,1261.0 2337.8,1261.0 2362.4,1261.0 2387.1,1261.0 2411.8,1261.0 2436.4,953.1 2461.1,953.1 2485.7,953.1 2510.3,1261.0 2535.0,1261.0" fill="none" stroke="none" marker-start="url(#mk0)" marker-mid="url(#mk0)" marker-end="url(#mk0)"/>
<line x1="516.00" x2="1410.00" y1="1515.80" y2="1515.80" stroke="rgba(40,40,55,0.05)" stroke-width="2"/>
<text x="501.60" y="1523.40" text-anchor="end" class="ax" style="letter-spacing:0.5px">83.447 MiB</text>
<line x1="516.00" x2="1410.00" y1="1573.40" y2="1573.40" stroke="rgba(40,40,55,0.05)" stroke-width="2"/>
<text x="501.60" y="1581.00" text-anchor="end" class="ax" style="letter-spacing:0.5px">82.97 MiB</text>
<line x1="516.00" x2="1410.00" y1="1631.00" y2="1631.00" stroke="rgba(40,40,55,0.05)" stroke-width="2"/>
<text x="501.60" y="1638.60" text-anchor="end" class="ax" style="letter-spacing:0.5px">82.493 MiB</text>
<line x1="516.00" x2="1410.00" y1="1688.60" y2="1688.60" stroke="rgba(40,40,55,0.05)" stroke-width="2"/>
<text x="501.60" y="1696.20" text-anchor="end" class="ax" style="letter-spacing:0.5px">82.016 MiB</text>
<line x1="516.00" x2="1410.00" y1="1746.20" y2="1746.20" stroke="rgba(40,40,55,0.05)" stroke-width="2"/>
<text x="501.60" y="1753.80" text-anchor="end" class="ax" style="letter-spacing:0.5px">81.539 MiB</text>
<line x1="516.00" x2="1410.00" y1="1803.80" y2="1803.80" stroke="rgba(40,40,55,0.05)" stroke-width="2"/>
<text x="501.60" y="1811.40" text-anchor="end" class="ax" style="letter-spacing:0.5px">81.062 MiB</text>
<line x1="516.00" x2="1410.00" y1="1861.40" y2="1861.40" stroke="#d9d8e0" stroke-width="2"/>
<text x="501.60" y="1869.00" text-anchor="end" class="ax" style="letter-spacing:0.5px">80.585 MiB</text>
<line x1="586.50" x2="586.50" y1="1515.80" y2="1861.40" stroke="rgba(40,40,55,0.05)" stroke-width="2"/>
<text x="586.50" y="1894.20" text-anchor="middle" class="axx">20:48</text>
<line x1="675.80" x2="675.80" y1="1515.80" y2="1861.40" stroke="rgba(40,40,55,0.05)" stroke-width="2"/>
<text x="675.80" y="1894.20" text-anchor="middle" class="axx">20:49</text>
<line x1="765.10" x2="765.10" y1="1515.80" y2="1861.40" stroke="rgba(40,40,55,0.05)" stroke-width="2"/>
<text x="765.10" y="1894.20" text-anchor="middle" class="axx">20:50</text>
<line x1="854.40" x2="854.40" y1="1515.80" y2="1861.40" stroke="rgba(40,40,55,0.05)" stroke-width="2"/>
<text x="854.40" y="1894.20" text-anchor="middle" class="axx">20:51</text>
<line x1="943.70" x2="943.70" y1="1515.80" y2="1861.40" stroke="rgba(40,40,55,0.05)" stroke-width="2"/>
<text x="943.70" y="1894.20" text-anchor="middle" class="axx">20:52</text>
<line x1="1033.00" x2="1033.00" y1="1515.80" y2="1861.40" stroke="rgba(40,40,55,0.05)" stroke-width="2"/>
<text x="1033.00" y="1894.20" text-anchor="middle" class="axx">20:53</text>
<line x1="1122.30" x2="1122.30" y1="1515.80" y2="1861.40" stroke="rgba(40,40,55,0.05)" stroke-width="2"/>
<text x="1122.30" y="1894.20" text-anchor="middle" class="axx">20:54</text>
<line x1="1211.60" x2="1211.60" y1="1515.80" y2="1861.40" stroke="rgba(40,40,55,0.05)" stroke-width="2"/>
<text x="1211.60" y="1894.20" text-anchor="middle" class="axx">20:55</text>
<line x1="1300.90" x2="1300.90" y1="1515.80" y2="1861.40" stroke="rgba(40,40,55,0.05)" stroke-width="2"/>
<text x="1300.90" y="1894.20" text-anchor="middle" class="axx">20:56</text>
<line x1="1390.20" x2="1390.20" y1="1515.80" y2="1861.40" stroke="rgba(40,40,55,0.05)" stroke-width="2"/>
<text x="1390.20" y="1894.20" text-anchor="middle" class="axx">20:57</text>
<line x1="1410.00" x2="1410.00" y1="1515.80" y2="1861.40" stroke="rgba(40,40,55,0.05)" stroke-width="2"/>
<line x1="516.00" x2="516.00" y1="1515.80" y2="1861.40" stroke="#d9d8e0" stroke-width="2"/>
<path d="M516.00 1702.50C516.00 1702.50 528.49 1623.75 538.35 1623.75C550.84 1623.75 549.87 1725.00 560.70 1725.00C572.22 1725.00 567.61 1669.51 583.05 1617.00C589.96 1593.51 593.01 1573.00 605.40 1573.00C615.36 1573.00 623.04 1586.83 627.75 1605.75C645.39 1676.58 631.04 1684.59 650.10 1752.50C653.39 1764.22 660.52 1765.00 672.45 1765.00C682.87 1765.00 683.62 1765.00 694.80 1765.00C705.97 1765.00 708.21 1765.00 717.15 1765.00C730.56 1765.00 733.95 1755.40 739.50 1740.00C756.30 1693.40 747.38 1689.41 761.85 1641.00C769.73 1614.66 775.32 1590.50 784.20 1590.50C797.67 1590.50 795.87 1671.25 806.55 1671.25C818.22 1671.25 819.74 1582.50 828.90 1582.50C842.09 1582.50 835.65 1648.80 851.25 1712.50C858.00 1740.05 857.54 1765.00 873.60 1765.00C879.89 1765.00 887.01 1765.00 895.95 1765.00C909.36 1765.00 913.48 1755.62 918.30 1740.00C935.83 1683.12 921.94 1620.00 940.65 1620.00C944.29 1620.00 957.77 1620.00 963.00 1628.00C980.12 1654.21 974.99 1702.50 985.35 1702.50C997.34 1702.50 994.68 1615.25 1007.70 1615.25C1017.03 1615.25 1013.46 1670.72 1030.05 1675.75C1035.81 1677.50 1049.30 1677.50 1052.40 1677.50C1071.65 1677.50 1064.89 1540.00 1074.75 1540.00C1087.24 1540.00 1083.72 1715.00 1097.10 1715.00C1106.07 1715.00 1105.40 1598.75 1119.45 1598.75C1127.75 1598.75 1129.45 1665.00 1141.80 1665.00C1151.80 1665.00 1154.90 1613.00 1164.15 1613.00C1177.25 1613.00 1175.81 1690.00 1186.50 1690.00C1198.16 1690.00 1197.67 1605.50 1208.85 1605.50C1220.02 1605.50 1219.74 1690.00 1231.20 1690.00C1242.09 1690.00 1242.58 1610.00 1253.55 1610.00C1264.93 1610.00 1263.96 1651.85 1275.90 1693.25C1286.31 1729.35 1281.02 1765.00 1298.25 1765.00C1303.37 1765.00 1311.66 1765.00 1320.60 1765.00C1334.01 1765.00 1340.12 1790.00 1342.95 1790.00C1362.47 1790.00 1347.04 1559.50 1365.30 1559.50C1369.39 1559.50 1372.17 1606.25 1387.65 1606.25C1394.52 1606.25 1410.00 1600.75 1410.00 1600.75" fill="none" stroke="#7a22ff" stroke-width="3.2" stroke-linejoin="round" stroke-linecap="round"/>
<polyline points="538.4,1623.8 583.0,1617.0 605.4,1573.0 627.8,1605.8 761.9,1641.0 784.2,1590.5 806.5,1671.2 828.9,1582.5 940.7,1620.0 963.0,1628.0 1007.7,1615.2 1030.1,1675.8 1052.4,1677.5 1074.8,1540.0 1119.5,1598.8 1141.8,1665.0 1164.2,1613.0 1186.5,1690.0 1208.8,1605.5 1231.2,1690.0 1253.6,1610.0 1275.9,1693.2 1365.3,1559.5 1387.7,1606.2 1410.0,1600.8" fill="none" stroke="none" marker-start="url(#mk0)" marker-mid="url(#mk0)" marker-end="url(#mk0)"/>
<line x1="1549.00" x2="2535.00" y1="1515.80" y2="1515.80" stroke="rgba(40,40,55,0.05)" stroke-width="2"/>
<text x="1535.40" y="1523.40" text-anchor="end" class="ax" style="letter-spacing:0.8px">25</text>
<line x1="1549.00" x2="2535.00" y1="1584.96" y2="1584.96" stroke="rgba(40,40,55,0.05)" stroke-width="2"/>
<text x="1535.40" y="1592.56" text-anchor="end" class="ax" style="letter-spacing:0.8px">20</text>
<line x1="1549.00" x2="2535.00" y1="1654.12" y2="1654.12" stroke="rgba(40,40,55,0.05)" stroke-width="2"/>
<text x="1535.40" y="1661.72" text-anchor="end" class="ax" style="letter-spacing:0.8px">15</text>
<line x1="1549.00" x2="2535.00" y1="1723.28" y2="1723.28" stroke="rgba(40,40,55,0.05)" stroke-width="2"/>
<text x="1535.40" y="1730.88" text-anchor="end" class="ax" style="letter-spacing:0.8px">10</text>
<line x1="1549.00" x2="2535.00" y1="1792.44" y2="1792.44" stroke="rgba(40,40,55,0.05)" stroke-width="2"/>
<text x="1535.40" y="1800.04" text-anchor="end" class="ax" style="letter-spacing:0.8px">5</text>
<line x1="1549.00" x2="2535.00" y1="1861.60" y2="1861.60" stroke="#d9d8e0" stroke-width="2"/>
<text x="1535.40" y="1869.20" text-anchor="end" class="ax" style="letter-spacing:0.8px">0</text>
<line x1="1627.40" x2="1627.40" y1="1515.80" y2="1861.60" stroke="rgba(40,40,55,0.05)" stroke-width="2"/>
<text x="1627.40" y="1894.40" text-anchor="middle" class="axx">20:48</text>
<line x1="1725.83" x2="1725.83" y1="1515.80" y2="1861.60" stroke="rgba(40,40,55,0.05)" stroke-width="2"/>
<text x="1725.83" y="1894.40" text-anchor="middle" class="axx">20:49</text>
<line x1="1824.26" x2="1824.26" y1="1515.80" y2="1861.60" stroke="rgba(40,40,55,0.05)" stroke-width="2"/>
<text x="1824.26" y="1894.40" text-anchor="middle" class="axx">20:50</text>
<line x1="1922.69" x2="1922.69" y1="1515.80" y2="1861.60" stroke="rgba(40,40,55,0.05)" stroke-width="2"/>
<text x="1922.69" y="1894.40" text-anchor="middle" class="axx">20:51</text>
<line x1="2021.12" x2="2021.12" y1="1515.80" y2="1861.60" stroke="rgba(40,40,55,0.05)" stroke-width="2"/>
<text x="2021.12" y="1894.40" text-anchor="middle" class="axx">20:52</text>
<line x1="2119.55" x2="2119.55" y1="1515.80" y2="1861.60" stroke="rgba(40,40,55,0.05)" stroke-width="2"/>
<text x="2119.55" y="1894.40" text-anchor="middle" class="axx">20:53</text>
<line x1="2217.98" x2="2217.98" y1="1515.80" y2="1861.60" stroke="rgba(40,40,55,0.05)" stroke-width="2"/>
<text x="2217.98" y="1894.40" text-anchor="middle" class="axx">20:54</text>
<line x1="2316.41" x2="2316.41" y1="1515.80" y2="1861.60" stroke="rgba(40,40,55,0.05)" stroke-width="2"/>
<text x="2316.41" y="1894.40" text-anchor="middle" class="axx">20:55</text>
<line x1="2414.84" x2="2414.84" y1="1515.80" y2="1861.60" stroke="rgba(40,40,55,0.05)" stroke-width="2"/>
<text x="2414.84" y="1894.40" text-anchor="middle" class="axx">20:56</text>
<line x1="2513.27" x2="2513.27" y1="1515.80" y2="1861.60" stroke="rgba(40,40,55,0.05)" stroke-width="2"/>
<text x="2513.27" y="1894.40" text-anchor="middle" class="axx">20:57</text>
<line x1="2535.00" x2="2535.00" y1="1515.80" y2="1861.60" stroke="rgba(40,40,55,0.05)" stroke-width="2"/>
<line x1="1549.00" x2="1549.00" y1="1515.80" y2="1861.60" stroke="#d9d8e0" stroke-width="2"/>
<path d="M1549.00 1861.00C1549.00 1861.00 1561.33 1861.00 1573.65 1861.00C1585.97 1861.00 1585.97 1861.00 1598.30 1861.00C1610.62 1861.00 1610.62 1861.00 1622.95 1861.00C1635.28 1861.00 1635.28 1861.00 1647.60 1861.00C1659.92 1861.00 1659.92 1861.00 1672.25 1861.00C1684.58 1861.00 1695.08 1861.00 1696.90 1861.00C1719.73 1861.00 1698.72 1553.08 1721.55 1553.08C1723.37 1553.08 1733.88 1553.08 1746.20 1553.08C1758.53 1553.08 1769.03 1553.08 1770.85 1553.08C1793.68 1553.08 1772.67 1861.00 1795.50 1861.00C1797.32 1861.00 1807.83 1861.00 1820.15 1861.00C1832.47 1861.00 1832.47 1861.00 1844.80 1861.00C1857.12 1861.00 1857.12 1861.00 1869.45 1861.00C1881.78 1861.00 1881.78 1861.00 1894.10 1861.00C1906.42 1861.00 1916.93 1861.00 1918.75 1861.00C1941.58 1861.00 1920.57 1553.08 1943.40 1553.08C1945.22 1553.08 1955.72 1553.08 1968.05 1553.08C1980.38 1553.08 1990.88 1553.08 1992.70 1553.08C2015.53 1553.08 1994.52 1861.00 2017.35 1861.00C2019.17 1861.00 2029.68 1861.00 2042.00 1861.00C2054.32 1861.00 2054.32 1861.00 2066.65 1861.00C2078.98 1861.00 2078.98 1861.00 2091.30 1861.00C2103.62 1861.00 2103.62 1861.00 2115.95 1861.00C2128.27 1861.00 2128.27 1861.00 2140.60 1861.00C2152.93 1861.00 2152.93 1861.00 2165.25 1861.00C2177.57 1861.00 2177.57 1861.00 2189.90 1861.00C2202.23 1861.00 2212.73 1861.00 2214.55 1861.00C2237.38 1861.00 2216.37 1553.08 2239.20 1553.08C2241.02 1553.08 2251.52 1553.08 2263.85 1553.08C2276.18 1553.08 2286.68 1553.08 2288.50 1553.08C2311.33 1553.08 2290.32 1861.00 2313.15 1861.00C2314.97 1861.00 2325.48 1861.00 2337.80 1861.00C2350.12 1861.00 2350.12 1861.00 2362.45 1861.00C2374.77 1861.00 2374.77 1861.00 2387.10 1861.00C2399.43 1861.00 2399.43 1861.00 2411.75 1861.00C2424.07 1861.00 2424.07 1861.00 2436.40 1861.00C2448.73 1861.00 2459.23 1861.00 2461.05 1861.00C2483.88 1861.00 2462.87 1553.08 2485.70 1553.08C2487.52 1553.08 2498.02 1553.08 2510.35 1553.08C2522.68 1553.08 2535.00 1553.08 2535.00 1553.08" fill="none" stroke="#7a22ff" stroke-width="3.2" stroke-linejoin="round" stroke-linecap="round"/>
<polyline points="1721.5,1553.1 1746.2,1553.1 1770.8,1553.1 1943.4,1553.1 1968.0,1553.1 1992.7,1553.1 2239.2,1553.1 2263.8,1553.1 2288.5,1553.1 2485.7,1553.1 2510.3,1553.1 2535.0,1553.1" fill="none" stroke="none" marker-start="url(#mk0)" marker-mid="url(#mk0)" marker-end="url(#mk0)"/>
<line x1="389.36" x2="418.36" y1="682.20" y2="682.20" stroke="#7a22ff" stroke-width="3.6"/>
<circle cx="403.86" cy="682.20" r="8.6" fill="#fff" stroke="#7a22ff" stroke-width="3.2"/>
<text x="426.30" y="690.00" class="lg" textLength="230.0" lengthAdjust="spacing">[datanode–0:24001]–[]</text>
<line x1="389.36" x2="418.36" y1="712.95" y2="712.95" stroke="#5a6af0" stroke-width="3.6"/>
<circle cx="403.86" cy="712.95" r="8.6" fill="#fff" stroke="#5a6af0" stroke-width="3.2"/>
<text x="426.30" y="720.75" class="lg" textLength="230.0" lengthAdjust="spacing">[datanode–1:24002]–[]</text>
<line x1="389.36" x2="418.36" y1="743.70" y2="743.70" stroke="#e0455f" stroke-width="3.6"/>
<circle cx="403.86" cy="743.70" r="8.6" fill="#fff" stroke="#e0455f" stroke-width="3.2"/>
<text x="426.30" y="751.50" class="lg" textLength="234.2" lengthAdjust="spacing">[datanode–2:24003]–[]</text>
<line x1="1514.36" x2="1543.36" y1="682.20" y2="682.20" stroke="#7a22ff" stroke-width="3.6"/>
<circle cx="1528.86" cy="682.20" r="8.6" fill="#fff" stroke="#7a22ff" stroke-width="3.2"/>
<text x="1551.30" y="690.00" class="lg" textLength="230.0" lengthAdjust="spacing">[datanode–0:24001]–[]</text>
<line x1="1514.36" x2="1543.36" y1="712.95" y2="712.95" stroke="#5a6af0" stroke-width="3.6"/>
<circle cx="1528.86" cy="712.95" r="8.6" fill="#fff" stroke="#5a6af0" stroke-width="3.2"/>
<text x="1551.30" y="720.75" class="lg" textLength="230.0" lengthAdjust="spacing">[datanode–1:24002]–[]</text>
<line x1="1514.36" x2="1543.36" y1="743.70" y2="743.70" stroke="#e0455f" stroke-width="3.6"/>
<circle cx="1528.86" cy="743.70" r="8.6" fill="#fff" stroke="#e0455f" stroke-width="3.2"/>
<text x="1551.30" y="751.50" class="lg" textLength="234.2" lengthAdjust="spacing">[datanode–2:24003]–[]</text>
<line x1="389.36" x2="418.36" y1="1343.50" y2="1343.50" stroke="#7a22ff" stroke-width="3.6"/>
<circle cx="403.86" cy="1343.50" r="8.6" fill="#fff" stroke="#7a22ff" stroke-width="3.2"/>
<text x="426.30" y="1351.30" class="lg" textLength="212.5" lengthAdjust="spacing">[frontend–0:4000]–[]</text>
<line x1="1514.36" x2="1543.36" y1="1343.50" y2="1343.50" stroke="#7a22ff" stroke-width="3.6"/>
<circle cx="1528.86" cy="1343.50" r="8.6" fill="#fff" stroke="#7a22ff" stroke-width="3.2"/>
<text x="1551.30" y="1351.30" class="lg" textLength="261.1" lengthAdjust="spacing">[frontend–0:4000]–[]–cpu</text></svg>
<div class="abs" style="left:324px;top:1663.7px;width:2284px;height:19px;background:linear-gradient(180deg,#fff,#fbfbfd)"></div>
<div class="btn" style="left:374px;width:50.6px"></div>
<div class="btn" style="left:443.3px;width:255.4px"></div>
<div class="btn" style="left:717.2px;width:135.2px"></div>
<div class="abs" style="left:765.5px;top:30px;width:1.6px;height:48px;background:#d9d7e1"></div>
<svg class="ic" style="left:386.6px;top:41.9px;color:#1d1633;" width="25.4" height="25.4" viewBox="0 0 24 24" preserveAspectRatio="none" fill="none" stroke="currentColor" stroke-linecap="round" stroke-linejoin="round"><g stroke-width="2.2"><rect x="1.5" y="1.5" width="8.5" height="8.5" rx="1.5"/><rect x="14" y="1.5" width="8.5" height="8.5" rx="1.5"/><rect x="1.5" y="14" width="8.5" height="8.5" rx="1.5"/><rect x="14" y="14" width="8.5" height="8.5" rx="1.5"/></g></svg>
<svg class="ic" style="left:457.5px;top:38px;color:#1d1633;" width="29.5" height="28" viewBox="0 0 30 28" preserveAspectRatio="none" fill="none" stroke="currentColor" stroke-linecap="round" stroke-linejoin="round"><g stroke-width="2.2"><path d="M12 25H4.5a3 3 0 0 1-3-3V6.5a3 3 0 0 1 3-3h17a3 3 0 0 1 3 3V13"/><path d="M7.5 1v5M18.5 1v5M6 11h8M6 16h4"/><circle cx="21" cy="20" r="6.5"/><path d="M21 16.5V20h3"/></g></svg>
<svg class="ic" style="left:728px;top:38px;color:#150a33" width="30" height="32" viewBox="728 38 30 32" fill="none" stroke="currentColor" stroke-width="2.3" stroke-linecap="round" stroke-linejoin="round"><path d="M752 59.350A9.700 9.700 0 1 1 750.900 49.400"/><path d="M750.400 42.900L751.900 49.100 745.500 50.500"/></svg>
<svg class="ic" style="left:821.2px;top:49.3px;color:#150a33;stroke-width:2.6px" width="15.1" height="8.6" viewBox="0 0 16 9" preserveAspectRatio="none" fill="none" stroke="currentColor" stroke-linecap="round" stroke-linejoin="round"><path d="M1.2 1.200l6.800 6.600 6.800-6.600"/></svg>
<svg class="ic" style="left:377.2px;top:116.1px;color:#1d1633;stroke-width:2.1px" width="15.1" height="7.8" viewBox="0 0 16 9" preserveAspectRatio="none" fill="none" stroke="currentColor" stroke-linecap="round" stroke-linejoin="round"><path d="M1.2 1.200l6.800 6.600 6.800-6.600"/></svg>
<svg class="ic" style="left:1335.1px;top:168px;color:#1f1d2b;" width="25.2" height="18.2" viewBox="0 0 24 18" preserveAspectRatio="none" fill="none" stroke="currentColor" stroke-linecap="round" stroke-linejoin="round"><g stroke-width="2"><path d="M1 9C4 3.5 8 1 12 1s8 2.5 11 8c-3 5.5-7 8-11 8S4 14.500 1 9Z"/><circle cx="12" cy="9" r="3.6"/></g></svg>
<svg class="ic" style="left:2460.1px;top:168px;color:#1f1d2b;" width="25.2" height="18.2" viewBox="0 0 24 18" preserveAspectRatio="none" fill="none" stroke="currentColor" stroke-linecap="round" stroke-linejoin="round"><g stroke-width="2"><path d="M1 9C4 3.5 8 1 12 1s8 2.5 11 8c-3 5.5-7 8-11 8S4 14.500 1 9Z"/><circle cx="12" cy="9" r="3.6"/></g></svg>
<svg class="ic" style="left:1335.1px;top:830px;color:#1f1d2b;" width="25.2" height="18.2" viewBox="0 0 24 18" preserveAspectRatio="none" fill="none" stroke="currentColor" stroke-linecap="round" stroke-linejoin="round"><g stroke-width="2"><path d="M1 9C4 3.5 8 1 12 1s8 2.5 11 8c-3 5.5-7 8-11 8S4 14.500 1 9Z"/><circle cx="12" cy="9" r="3.6"/></g></svg>
<svg class="ic" style="left:2460.1px;top:830px;color:#1f1d2b;" width="25.2" height="18.2" viewBox="0 0 24 18" preserveAspectRatio="none" fill="none" stroke="currentColor" stroke-linecap="round" stroke-linejoin="round"><g stroke-width="2"><path d="M1 9C4 3.5 8 1 12 1s8 2.5 11 8c-3 5.5-7 8-11 8S4 14.500 1 9Z"/><circle cx="12" cy="9" r="3.6"/></g></svg>
<svg class="ic" style="left:1335.1px;top:1430px;color:#1f1d2b;" width="25.2" height="18.2" viewBox="0 0 24 18" preserveAspectRatio="none" fill="none" stroke="currentColor" stroke-linecap="round" stroke-linejoin="round"><g stroke-width="2"><path d="M1 9C4 3.5 8 1 12 1s8 2.5 11 8c-3 5.5-7 8-11 8S4 14.500 1 9Z"/><circle cx="12" cy="9" r="3.6"/></g></svg>
<svg class="ic" style="left:2460.1px;top:1430px;color:#1f1d2b;" width="25.2" height="18.2" viewBox="0 0 24 18" preserveAspectRatio="none" fill="none" stroke="currentColor" stroke-linecap="round" stroke-linejoin="round"><g stroke-width="2"><path d="M1 9C4 3.5 8 1 12 1s8 2.5 11 8c-3 5.5-7 8-11 8S4 14.500 1 9Z"/><circle cx="12" cy="9" r="3.6"/></g></svg>
<div class="abs" style="left:0;top:2px;width:323px;height:1680px;background:#fff;border-right:1.5px solid #d3d0dd"></div>
<div class="abs" style="left:0;top:798px;width:323px;height:63px;background:#f5f1ff"></div>
<div class="abs" style="left:0;top:798px;width:3px;height:63px;background:#7a2cf5"></div>
<div class="abs" style="left:27px;top:1578px;width:269px;height:68px;background:#f3f3f3;border-radius:7px"></div>
<svg class="ic" style="left:40px;top:20.6px;color:#7a24ff;" width="56" height="56.4" viewBox="-28.8 -28.2 56 56.4" preserveAspectRatio="none" fill="none" stroke="currentColor" stroke-linecap="round" stroke-linejoin="round"><defs><clipPath id="lgA"><path d="M-40 -40H40V-1.05H0V1.25H40V40H-40Z"/></clipPath><clipPath id="lgB"><path d="M-40 -40H40V-1.05H0V8.1H40V40H-40Z"/></clipPath></defs><g stroke-linecap="butt"><circle r="26" stroke-width="4.1" clip-path="url(#lgA)"/><circle r="19.1" stroke-width="3.7" clip-path="url(#lgB)"/><circle r="12.1" stroke-width="3.8" clip-path="url(#lgB)"/><circle r="5.1" stroke-width="3.6" clip-path="url(#lgA)"/></g><rect x="3.6" y="1.25" width="24.4" height="3.8" fill="currentColor" stroke="none"/></svg>
<svg class="abs" style="left:95px;top:15px" width="200" height="70" viewBox="95 15 200 70"><text transform="translate(102.4,65.2) scale(0.915,1)" font-family='"Liberation Sans", sans-serif' font-weight="700" font-size="47" fill="#242424" stroke="#242424" stroke-width="1.5" stroke-linejoin="round" letter-spacing="-1.3">Greptime</text></svg>
<svg class="ic" style="left:290.4px;top:235.4px;color:#8a8f9b;" width="18.2" height="9.3" viewBox="0 0 18 9.3" preserveAspectRatio="none" fill="none" stroke="currentColor" stroke-linecap="round" stroke-linejoin="round"><path d="M1 8.3l8-7.3 8 7.3" stroke-width="1.8"/></svg>
<svg class="ic" style="left:290.4px;top:369.5px;color:#8a8f9b;" width="18.2" height="9.3" viewBox="0 0 18 9.3" preserveAspectRatio="none" fill="none" stroke="currentColor" stroke-linecap="round" stroke-linejoin="round"><path d="M1 8.3l8-7.3 8 7.3" stroke-width="1.8"/></svg>
<svg class="ic" style="left:290.4px;top:756.3px;color:#3b6cf6;" width="18.2" height="9.3" viewBox="0 0 18 9.3" preserveAspectRatio="none" fill="none" stroke="currentColor" stroke-linecap="round" stroke-linejoin="round"><path d="M1 8.3l8-7.3 8 7.3" stroke-width="1.8"/></svg>
<div class="abs" style="left:0;top:0;width:2608px;height:2px;background:#e2e2e2"></div>
<div class="abs" style="left:2588.3px;top:245px;width:16.7px;height:165.5px;border-radius:9px;background:#d5d6db"></div>
<div class="abs" style="left:0;top:1682px;width:2608px;height:48px;background:linear-gradient(180deg,#f0f0fa 0%,#ebebf5 35%,#e3e3ed 70%,#dbdbe5 100%)"></div>
<div class="abs" style="left:0;top:1682px;width:1100px;height:48px;background:linear-gradient(90deg,#f5f4fd 0%,#f5f4fd 30%,rgba(245,244,253,0) 100%)"></div>
<div class="abs" style="left:0;top:1682px;width:2608px;height:5px;background:linear-gradient(180deg,#efeefa,rgba(239,238,250,0))"></div>
<div class="abs" style="left:2589.2px;top:1662px;width:40px;height:52px;border-radius:8px;background:#e6e6eb;border:1.2px solid #c9c9cf;box-sizing:border-box;box-shadow:0 1px 7px rgba(0,0,0,0.16)"></div>
<svg class="abs" style="left:0;top:1706px" width="10" height="24" viewBox="0 0 10 24"><path d="M0 2Q0.8 15 6.2 24H0Z" fill="#06090a"/></svg>
<svg class="abs" style="left:2602px;top:1724px" width="6" height="6" viewBox="0 0 6 6"><path d="M6 0.500L1.800 6H6Z" fill="#1f4e94"/></svg>
<svg class="ic" style="left:9px;top:149px;color:#4b4557" width="34" height="30" viewBox="9 149 34 30" fill="none" stroke="currentColor" stroke-linecap="round" stroke-linejoin="round"><g stroke-width="1.85" stroke-linejoin="miter"><rect x="15.7" y="152.1" width="21.1" height="7.6" rx="0.6"/><path d="M19.3 155.8h1.8" stroke-width="1.7"/><path d="M26.4 159.7v10.6M15.4 170.2v-4.9h21.8v4.9"/><rect x="12.5" y="171.2" width="5.3" height="4.6"/><rect x="23.9" y="171.2" width="5.0" height="4.6"/><rect x="34.3" y="171.2" width="5.4" height="4.6"/></g></svg>
<svg class="ic" style="left:9px;top:222px;color:#4b4557" width="36" height="36" viewBox="9 222 36 36" fill="none" stroke="currentColor" stroke-linecap="round" stroke-linejoin="round"><path transform="translate(11.2,224.6)" d="M24 2.45L19.3 7.1 22.3 10.4 27.4 5.4A7.8 7.8 0 0 1 16.4 16L4.6 28.6 1 24.9 13.37 12.17A7.8 7.8 0 0 1 24 2.45Z" stroke-width="1.9" stroke-linejoin="miter"/></svg>
<svg class="ic" style="left:32px;top:290px;color:#4b4557" width="32" height="32" viewBox="32 290 32 32" fill="none" stroke="currentColor" stroke-linecap="round" stroke-linejoin="round"><g stroke-width="1.9"><circle cx="36" cy="306" r="1.9" fill="currentColor" stroke="none"/><path d="M36 306H48.3"/><path d="M36.5 305.5C41 301 40.500 295.100 46.600 295.100M36.500 306.500C41 311 40.500 317 46.600 317"/><path d="M52.300 295.100H60M52.300 306H60M52.300 317H60"/></g></svg>
<svg class="ic" style="left:9px;top:357px;color:#4b4557" width="34" height="34" viewBox="9 357 34 34" fill="none" stroke="currentColor" stroke-linecap="round" stroke-linejoin="round"><g stroke-width="2.4"><ellipse cx="26" cy="364.700" rx="13.200" ry="4.300"/><path d="M12.800 364.700V382.800C12.800 385.200 18.700 387.200 26 387.200S39.200 385.200 39.200 382.800V364.700"/><path d="M12.800 370.800C12.800 373.200 18.700 375.200 26 375.200S39.200 373.200 39.200 370.800M12.800 376.800C12.800 379.200 18.700 381.200 26 381.200S39.200 379.200 39.200 376.800"/></g></svg>
<svg class="ic" style="left:32px;top:425px;color:#4b4557" width="32" height="32" viewBox="32 425 32 32" fill="none" stroke="currentColor" stroke-linecap="round" stroke-linejoin="round"><g stroke-width="2"><path d="M50.300 453.400H37.600a2 2 0 0 1-2-2V430.300a2 2 0 0 1 2-2H58.800a2 2 0 0 1 2 2V443.500"/><path d="M39.600 434.100H54.500M39.600 439.900H44.200"/><circle cx="52.100" cy="445.400" r="4"/><path d="M55.200 448.500L59.300 452.200"/></g></svg>
<svg class="ic" style="left:31px;top:488px;color:#4b4557" width="34" height="32" viewBox="31 488 34 32" fill="none" stroke="currentColor" stroke-linecap="round" stroke-linejoin="round"><g stroke-width="2.1"><path d="M34.200 504.200V493.500Q34.200 491.500 36.200 491.500H45.500Q46.800 491.500 47.400 492.800L48.400 495Q49 496.100 50.200 496.100H60Q62.100 496.100 62.100 498.200V514.600Q62.100 516.700 60 516.700H36.600Q34.200 516.700 34.200 514.300V512Q34.200 508.800 37.600 508.600 39.400 508.600 39.800 510.400 40.400 512.600 42 511.600L47.900 506.300 42.300 500.500Q40.600 499.400 39.900 501.600 39.500 504.200 37.500 504.200Z"/><path d="M52.900 501.800V511"/></g></svg>
<svg class="ic" style="left:33px;top:551px;color:#4b4557" width="32" height="32" viewBox="33 551 32 32" fill="none" stroke="currentColor" stroke-linecap="round" stroke-linejoin="round"><g stroke-width="2.1"><path d="M55.600 553.800H38.200a2.100 2.100 0 0 0-2.100 2.100V578a2.100 2.100 0 0 0 2.100 2.100H57.300a2.100 2.100 0 0 0 2.100-2.100V567.600"/><path d="M40.400 562.500H49.300M40.400 570.700H46.600"/><path d="M56.700 554.600L61.300 556.500 54 572.600 50.200 575.300 49.100 571Z" stroke-width="1.9"/></g></svg>
<svg class="ic" style="left:31px;top:612px;color:#4b4557" width="35" height="36" viewBox="31 612 35 36" fill="none" stroke="currentColor" stroke-linecap="round" stroke-linejoin="round"><g stroke-width="2.4"><rect x="33.850" y="615.750" width="28.550" height="28.750" rx="1.200"/><path d="M43.300 620V640.200M53.050 620V640.200" stroke-width="2.2"/><rect x="40.600" y="623.300" width="5.400" height="5.500" rx="0.800" fill="#fff" stroke-width="2.200"/><rect x="50.500" y="630.200" width="5.400" height="5.500" rx="0.800" fill="#fff" stroke-width="2.200"/></g></svg>
<svg class="ic" style="left:32px;top:676px;color:#585264" width="34" height="34" viewBox="32 676 34 34" fill="none" stroke="currentColor" stroke-linecap="round" stroke-linejoin="round"><g stroke-width="3"><rect x="36" y="679.700" width="8.900" height="5.600" rx="2.300"/><rect x="52.100" y="688" width="8.500" height="5.400" rx="2.300"/><rect x="52.100" y="699.800" width="8.500" height="5.400" rx="2.300"/><path d="M40.500 686.800V700.400Q40.500 702.800 42.900 702.800H50.600M40.500 691.400H50.600"/></g></svg>
<svg class="ic" style="left:10px;top:742px;color:#7a2cf5" width="36" height="34" viewBox="10 742 36 34" fill="none" stroke="currentColor" stroke-linecap="round" stroke-linejoin="round"><g transform="translate(0,0)"><path d="M13.5 746.4V768.6Q13.5 771.5 16.4 771.5H41.6" stroke-width="2.8"/><path d="M17.2 763.2L23.9 756.6 31.4 763.6 40.9 754.1" stroke-width="2.5"/></g></svg>
<svg class="ic" style="left:32.1px;top:808.9px;color:#7a2cf5" width="36" height="34" viewBox="32.1 808.9 36 34" fill="none" stroke="currentColor" stroke-linecap="round" stroke-linejoin="round"><g transform="translate(22.1,66.9)"><path d="M13.5 746.4V768.6Q13.5 771.5 16.4 771.5H41.6" stroke-width="2.8"/><path d="M17.2 763.2L23.9 756.6 31.4 763.6 40.9 754.1" stroke-width="2.5"/></g></svg>
<svg class="ic" style="left:32px;top:874px;color:#4b4557" width="34" height="34" viewBox="32 874 34 34" fill="none" stroke="currentColor" stroke-linecap="round" stroke-linejoin="round"><g stroke-width="2.5"><circle cx="47.300" cy="888.900" r="10.900"/><path d="M55.300 897.100L60 901.800"/></g></svg>
<svg class="ic" style="left:31px;top:935px;color:#4b4557" width="36" height="34" viewBox="31 935 36 34" fill="none" stroke="currentColor" stroke-linecap="round" stroke-linejoin="round"><g stroke-width="2.6"><path d="M38.800 963.200A14 14 0 1 1 57.800 963.200"/><path d="M47.900 940V942.800M35 954.900H38.600M58 954.900H61.600M38.200 945L40.600 946.400M58.400 945L56 946.400" stroke-width="2.2"/><path d="M53.400 948.800L47.600 951.600A3.200 3.200 0 1 0 50.900 955.300Z" stroke-width="2.100"/></g></svg>
<svg class="ic" style="left:93px;top:1596px;color:#4b4557" width="34" height="32" viewBox="93 1596 34 32" fill="none" stroke="currentColor" stroke-linecap="round" stroke-linejoin="round"><g stroke-width="1.7"><path d="M96.400 1612.300Q95.900 1611.500 96.400 1610.700L102.500 1599.900Q103.100 1598.900 104.200 1598.900H114.700Q115.800 1598.900 116.400 1599.900L122.500 1610.700Q123 1611.500 122.500 1612.300L116.400 1623.300Q115.800 1624.300 114.700 1624.300H104.200Q103.100 1624.300 102.500 1623.300Z"/><circle cx="109.500" cy="1611.500" r="4.400" stroke-width="1.900"/></g></svg>
<svg class="ic" style="left:26px;top:1694px;color:#0f0b1e" width="34" height="30" viewBox="26 1694 34 30" fill="none" stroke="currentColor" stroke-linecap="round" stroke-linejoin="round"><g stroke-width="2.3"><rect x="29.100" y="1697.300" width="27.900" height="9.800" rx="2.200"/><rect x="29.100" y="1711.500" width="27.900" height="9.800" rx="2.200"/><circle cx="33.100" cy="1702.300" r="2.100" fill="currentColor" stroke="none"/><circle cx="39.300" cy="1702.300" r="2.100" fill="currentColor" stroke="none"/><circle cx="33.100" cy="1716.700" r="2.100" fill="currentColor" stroke="none"/><circle cx="39.300" cy="1716.700" r="2.100" fill="currentColor" stroke="none"/></g></svg>
<span class="t" style="left:50.50px;top:151px;font-size:26.5px;line-height:30px;font-weight:400;color:#535e6e;letter-spacing:-0.443px;">Overview</span>
<span class="t" style="left:50.50px;top:227px;font-size:26.5px;line-height:30px;font-weight:400;color:#535e6e;letter-spacing:0.270px;">Operation</span>
<span class="t" style="left:71.60px;top:295px;font-size:24.5px;line-height:27px;font-weight:400;color:#535e6e;letter-spacing:-0.171px;">Region Management</span>
<span class="t" style="left:49.80px;top:361px;font-size:26.5px;line-height:30px;font-weight:400;color:#535e6e;letter-spacing:-0.104px;">Data Management</span>
<span class="t" style="left:72.40px;top:428px;font-size:24.5px;line-height:27px;font-weight:400;color:#535e6e;letter-spacing:-0.467px;">Query</span>
<span class="t" style="left:71.60px;top:492px;font-size:24.5px;line-height:27px;font-weight:400;color:#535e6e;letter-spacing:-0.307px;">Ingest</span>
<span class="t" style="left:71.60px;top:555px;font-size:24.5px;line-height:27px;font-weight:400;color:#535e6e;letter-spacing:-0.600px;">Logs Query</span>
<span class="t" style="left:71.60px;top:618px;font-size:24.5px;line-height:27px;font-weight:400;color:#535e6e;letter-spacing:-0.478px;">Logs Pipelines</span>
<span class="t" style="left:73.00px;top:681px;font-size:24.5px;line-height:27px;font-weight:400;color:#535e6e;letter-spacing:-0.567px;">Traces Query</span>
<span class="t" style="left:49.80px;top:748px;font-size:26.5px;line-height:30px;font-weight:400;color:#7a2cf5;letter-spacing:1.268px;-webkit-text-stroke:0.5px #7a2cf5">Monitoring</span>
<span class="t" style="left:71.40px;top:816px;font-size:24.5px;line-height:27px;font-weight:400;color:#7a2cf5;letter-spacing:0.751px;-webkit-text-stroke:0.4px #7a2cf5">Metrics</span>
<span class="t" style="left:71.60px;top:879px;font-size:24.5px;line-height:27px;font-weight:400;color:#535e6e;letter-spacing:-0.417px;">Instance Logs</span>
<span class="t" style="left:72.20px;top:942px;font-size:24.5px;line-height:27px;font-weight:400;color:#535e6e;letter-spacing:-0.509px;">Slow Query</span>
<span class="t" style="left:141.50px;top:1598px;font-size:24.5px;line-height:27px;font-weight:400;color:#524d60;letter-spacing:-0.382px;">Settings</span>
<span class="t" style="left:68.40px;top:1694px;font-size:26px;line-height:30px;font-weight:400;color:#170d33;letter-spacing:0.032px;-webkit-text-stroke:0.8px #170d33">http://localhost:19095</span>
<span class="t" style="left:352.60px;top:1694px;font-size:26px;line-height:30px;font-weight:400;color:#170d33;letter-spacing:0.117px;-webkit-text-stroke:0.8px #170d33">default/default_mycluster</span>
<span class="t" style="left:498.00px;top:39px;font-size:26px;line-height:30px;font-weight:400;color:#1d1633;letter-spacing:0.061px;">Last 10 minutes</span>
<span class="t" style="left:781.40px;top:39px;font-size:26px;line-height:30px;font-weight:400;color:#1d1633;letter-spacing:-2.560px;">5s</span>
<span class="t" style="left:410.50px;top:106px;font-size:24.3px;line-height:27px;font-weight:400;color:#150a33;letter-spacing:-0.123px;-webkit-text-stroke:0.6px #150a33">Resources</span>
<span class="t" style="left:375.40px;top:175px;font-size:25px;line-height:28px;font-weight:700;color:#150a33;letter-spacing:0.036px;-webkit-text-stroke:0.45px #150a33">Datanode Memory per Instance</span>
<span class="t" style="left:1375.60px;top:164px;font-size:24px;line-height:27px;font-weight:400;color:#1f1d2b;letter-spacing:-0.618px;">View</span>
<span class="t" style="left:1500.40px;top:175px;font-size:25px;line-height:28px;font-weight:700;color:#150a33;letter-spacing:-0.145px;-webkit-text-stroke:0.45px #150a33">Datanode CPU Usage per Instance</span>
<span class="t" style="left:2500.60px;top:164px;font-size:24px;line-height:27px;font-weight:400;color:#1f1d2b;letter-spacing:-0.618px;">View</span>
<span class="t" style="left:375.40px;top:837px;font-size:25px;line-height:28px;font-weight:700;color:#150a33;letter-spacing:-0.250px;-webkit-text-stroke:0.45px #150a33">Frontend Memory per Instance</span>
<span class="t" style="left:1375.60px;top:826px;font-size:24px;line-height:27px;font-weight:400;color:#1f1d2b;letter-spacing:-0.618px;">View</span>
<span class="t" style="left:1500.40px;top:837px;font-size:25px;line-height:28px;font-weight:700;color:#150a33;letter-spacing:-0.381px;-webkit-text-stroke:0.45px #150a33">Frontend CPU Usage per Instance</span>
<span class="t" style="left:2500.60px;top:826px;font-size:24px;line-height:27px;font-weight:400;color:#1f1d2b;letter-spacing:-0.618px;">View</span>
<span class="t" style="left:375.40px;top:1437px;font-size:25px;line-height:28px;font-weight:700;color:#150a33;letter-spacing:-0.139px;-webkit-text-stroke:0.45px #150a33">Metasrv Memory per Instance</span>
<span class="t" style="left:1375.60px;top:1426px;font-size:24px;line-height:27px;font-weight:400;color:#1f1d2b;letter-spacing:-0.618px;">View</span>
<span class="t" style="left:1500.40px;top:1437px;font-size:25px;line-height:28px;font-weight:700;color:#150a33;letter-spacing:-0.285px;-webkit-text-stroke:0.45px #150a33">Metasrv CPU Usage per Instance</span>
<span class="t" style="left:2500.60px;top:1426px;font-size:24px;line-height:27px;font-weight:400;color:#1f1d2b;letter-spacing:-0.618px;">View</span>
</div></body></html>
